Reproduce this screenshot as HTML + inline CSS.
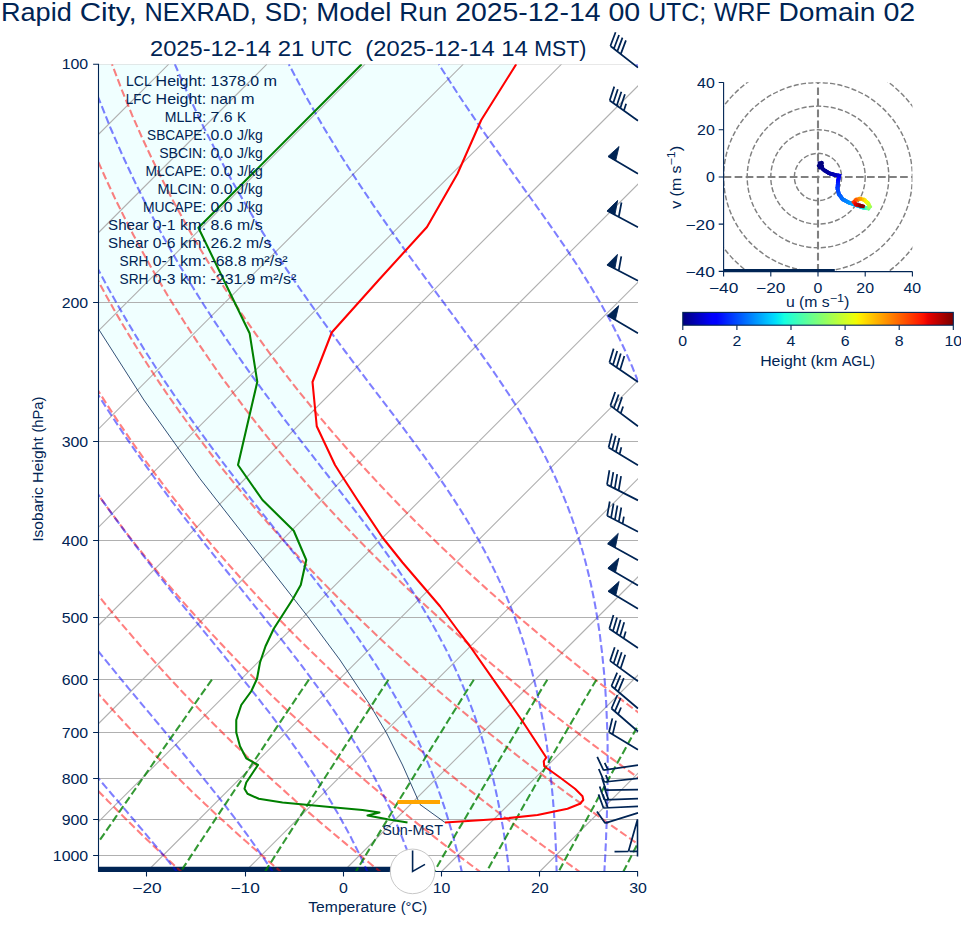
<!DOCTYPE html>
<html><head><meta charset="utf-8"><title>Skew-T</title>
<style>html,body{margin:0;padding:0;background:#fff}svg{display:block}text{font-family:"Liberation Sans",sans-serif;white-space:pre}</style>
</head><body>
<svg width="961" height="936" viewBox="0 0 961 936">
<rect width="961" height="936" fill="#ffffff"/>
<defs><clipPath id="cp"><rect x="98.00" y="64.20" width="540.00" height="807.30"/></clipPath></defs>
<g clip-path="url(#cp)">
<path d="M98.00,64.20 L98.00,328.20 L143.90,400.00 L200.00,478.75 L227.50,514.00 L262.50,558.75 L307.50,616.25 L340.00,660.00 L347.50,671.25 L370.00,705.00 L386.25,732.50 L402.50,765.00 L417.50,798.75 L420.00,804.50 L445.00,822.50 L445.00,822.50 L502.50,818.75 L537.50,815.00 L567.50,808.75 L580.00,803.75 L583.30,800.00 L582.50,796.25 L575.00,788.75 L560.00,777.50 L544.25,766.25 L543.75,761.25 L546.25,757.50 L522.50,721.25 L470.00,646.25 L457.50,630.00 L440.00,606.25 L402.50,562.50 L382.50,537.50 L357.50,500.00 L343.75,478.75 L335.00,465.00 L316.75,426.25 L312.50,382.00 L331.75,332.50 L378.75,280.00 L427.00,227.00 L457.50,173.75 L481.25,120.00 L516.25,64.20 Z" fill="#f0ffff" stroke="none"/>
<path d="M98.00,64.20 H638.00" fill="none" stroke="#b0b0b0" stroke-opacity="0.5" stroke-width="1.1"/>
<path d="M-933.20,871.50 L-125.90,64.20 M-835.00,871.50 L-27.70,64.20 M-736.80,871.50 L70.50,64.20 M-638.60,871.50 L168.70,64.20 M-540.40,871.50 L266.90,64.20 M-442.20,871.50 L365.10,64.20 M-344.00,871.50 L463.30,64.20 M-245.80,871.50 L561.50,64.20 M-147.60,871.50 L659.70,64.20 M-49.40,871.50 L757.90,64.20 M48.80,871.50 L856.10,64.20 M147.00,871.50 L954.30,64.20 M245.20,871.50 L1052.50,64.20 M343.40,871.50 L1150.70,64.20 M441.60,871.50 L1248.90,64.20 M539.80,871.50 L1347.10,64.20 M638.00,871.50 L1445.30,64.20 M736.20,871.50 L1543.50,64.20 M98.00,302.50 L638.00,302.50 M98.00,441.50 L638.00,441.50 M98.00,540.50 L638.00,540.50 M98.00,617.50 L638.00,617.50 M98.00,679.50 L638.00,679.50 M98.00,732.50 L638.00,732.50 M98.00,778.50 L638.00,778.50 M98.00,819.50 L638.00,819.50 M98.00,855.50 L638.00,855.50" fill="none" stroke="#b0b0b0" stroke-width="1.1"/>
<path d="M98.00,871.50 L413.00,871.50" stroke="#002454" stroke-width="9.6" fill="none"/>
<path d="M-16.5,873.1 L-18.9,870.5 L-21.4,867.9 L-23.9,865.2 L-26.3,862.5 L-28.8,859.8 L-31.3,857.1 L-33.8,854.3 L-36.3,851.6 L-38.8,848.8 L-41.3,846.0 L-43.8,843.1 L-46.3,840.3 L-48.9,837.4 L-51.4,834.5 L-54.0,831.5 L-56.5,828.6 L-59.1,825.6 L-61.7,822.6 L-64.3,819.5 L-66.9,816.5 L-69.5,813.4 L-72.1,810.2 L-74.7,807.1 L-77.3,803.9 L-80.0,800.7 L-82.6,797.4 L-85.3,794.2 L-87.9,790.9 L-90.6,787.5 L-93.3,784.2 L-96.0,780.8 L-98.7,777.3 L-101.4,773.9 L-104.2,770.4 L-106.9,766.8 L-109.6,763.2 L-112.4,759.6 L-115.2,756.0 L-117.9,752.3 L-120.7,748.5 L-123.5,744.8 L-126.3,740.9 L-129.1,737.1 L-131.9,733.2 L-134.8,729.2 L-137.6,725.2 L-140.5,721.2 L-143.3,717.1 L-146.2,713.0 L-149.1,708.8 L-152.0,704.5 L-154.9,700.2 L-157.8,695.9 L-160.8,691.5 L-163.7,687.0 L-166.7,682.5 L-169.6,677.9 L-172.6,673.3 L-175.6,668.6 L-178.6,663.8 L-181.6,658.9 L-184.6,654.0 L-187.6,649.1 L-190.7,644.0 L-193.7,638.9 L-196.8,633.7 L-199.8,628.4 L-202.9,623.0 L-206.0,617.6 L-209.1,612.0 L-212.2,606.4 L-215.3,600.7 L-218.5,594.8 L-221.6,588.9 L-224.7,582.9 L-227.9,576.7 L-231.1,570.5 L-234.2,564.1 L-237.4,557.6 L-240.6,551.0 L-243.8,544.3 L-247.0,537.4 L-250.2,530.4 L-253.5,523.2 L-256.7,515.9 L-259.9,508.5 L-263.1,500.8 L-266.4,493.0 L-269.6,485.0 L-272.8,476.8 L-276.1,468.5 L-279.3,459.9 L-282.5,451.0 L-285.7,442.0 L-288.9,432.7 L-292.1,423.2 L-295.3,413.3 L-298.5,403.2 L-301.6,392.8 L-304.8,382.1 L-307.8,371.0 L-310.9,359.5 L-313.9,347.7 L-316.9,335.4 L-319.8,322.7 L-322.7,309.4 L-325.5,295.7 L-328.2,281.3 L-330.8,266.4 L-333.3,250.8 L-335.6,234.4 L-337.8,217.2 L-339.9,199.1 L-341.7,180.0 L-343.2,159.7 L-344.5,138.2 L-345.4,115.3 L-345.8,90.7 L-345.8,64.2 M83.2,873.1 L80.5,870.5 L77.8,867.9 L75.2,865.2 L72.5,862.5 L69.8,859.8 L67.1,857.1 L64.4,854.3 L61.7,851.6 L58.9,848.8 L56.2,846.0 L53.4,843.1 L50.7,840.3 L47.9,837.4 L45.1,834.5 L42.3,831.5 L39.5,828.6 L36.7,825.6 L33.9,822.6 L31.1,819.5 L28.2,816.5 L25.4,813.4 L22.5,810.2 L19.7,807.1 L16.8,803.9 L13.9,800.7 L11.0,797.4 L8.1,794.2 L5.1,790.9 L2.2,787.5 L-0.7,784.2 L-3.7,780.8 L-6.7,777.3 L-9.6,773.9 L-12.6,770.4 L-15.6,766.8 L-18.7,763.2 L-21.7,759.6 L-24.7,756.0 L-27.8,752.3 L-30.8,748.5 L-33.9,744.8 L-37.0,740.9 L-40.1,737.1 L-43.2,733.2 L-46.3,729.2 L-49.5,725.2 L-52.6,721.2 L-55.8,717.1 L-59.0,713.0 L-62.2,708.8 L-65.4,704.5 L-68.6,700.2 L-71.8,695.9 L-75.1,691.5 L-78.3,687.0 L-81.6,682.5 L-84.9,677.9 L-88.2,673.3 L-91.5,668.6 L-94.8,663.8 L-98.2,658.9 L-101.5,654.0 L-104.9,649.1 L-108.3,644.0 L-111.7,638.9 L-115.1,633.7 L-118.5,628.4 L-122.0,623.0 L-125.4,617.6 L-128.9,612.0 L-132.4,606.4 L-135.9,600.7 L-139.4,594.8 L-142.9,588.9 L-146.4,582.9 L-150.0,576.7 L-153.6,570.5 L-157.2,564.1 L-160.8,557.6 L-164.4,551.0 L-168.0,544.3 L-171.6,537.4 L-175.3,530.4 L-178.9,523.2 L-182.6,515.9 L-186.3,508.5 L-190.0,500.8 L-193.7,493.0 L-197.4,485.0 L-201.1,476.8 L-204.9,468.5 L-208.6,459.9 L-212.3,451.0 L-216.1,442.0 L-219.8,432.7 L-223.6,423.2 L-227.3,413.3 L-231.1,403.2 L-234.8,392.8 L-238.5,382.1 L-242.2,371.0 L-245.9,359.5 L-249.5,347.7 L-253.2,335.4 L-256.8,322.7 L-260.3,309.4 L-263.8,295.7 L-267.2,281.3 L-270.6,266.4 L-273.9,250.8 L-277.0,234.4 L-280.1,217.2 L-283.0,199.1 L-285.7,180.0 L-288.2,159.7 L-290.4,138.2 L-292.3,115.3 L-293.9,90.7 L-294.9,64.2 M182.9,873.1 L180.0,870.5 L177.1,867.9 L174.2,865.2 L171.3,862.5 L168.4,859.8 L165.4,857.1 L162.5,854.3 L159.6,851.6 L156.6,848.8 L153.6,846.0 L150.7,843.1 L147.7,840.3 L144.7,837.4 L141.6,834.5 L138.6,831.5 L135.6,828.6 L132.5,825.6 L129.5,822.6 L126.4,819.5 L123.3,816.5 L120.2,813.4 L117.1,810.2 L114.0,807.1 L110.9,803.9 L107.7,800.7 L104.6,797.4 L101.4,794.2 L98.2,790.9 L95.0,787.5 L91.8,784.2 L88.6,780.8 L85.4,777.3 L82.1,773.9 L78.9,770.4 L75.6,766.8 L72.3,763.2 L69.0,759.6 L65.7,756.0 L62.4,752.3 L59.0,748.5 L55.7,744.8 L52.3,740.9 L48.9,737.1 L45.5,733.2 L42.1,729.2 L38.7,725.2 L35.2,721.2 L31.7,717.1 L28.3,713.0 L24.8,708.8 L21.3,704.5 L17.7,700.2 L14.2,695.9 L10.6,691.5 L7.1,687.0 L3.5,682.5 L-0.1,677.9 L-3.8,673.3 L-7.4,668.6 L-11.1,663.8 L-14.7,658.9 L-18.4,654.0 L-22.2,649.1 L-25.9,644.0 L-29.6,638.9 L-33.4,633.7 L-37.2,628.4 L-41.0,623.0 L-44.8,617.6 L-48.7,612.0 L-52.5,606.4 L-56.4,600.7 L-60.3,594.8 L-64.2,588.9 L-68.1,582.9 L-72.1,576.7 L-76.1,570.5 L-80.1,564.1 L-84.1,557.6 L-88.1,551.0 L-92.2,544.3 L-96.2,537.4 L-100.3,530.4 L-104.4,523.2 L-108.6,515.9 L-112.7,508.5 L-116.9,500.8 L-121.0,493.0 L-125.2,485.0 L-129.4,476.8 L-133.7,468.5 L-137.9,459.9 L-142.2,451.0 L-146.4,442.0 L-150.7,432.7 L-155.0,423.2 L-159.3,413.3 L-163.6,403.2 L-167.9,392.8 L-172.2,382.1 L-176.6,371.0 L-180.9,359.5 L-185.2,347.7 L-189.4,335.4 L-193.7,322.7 L-197.9,309.4 L-202.1,295.7 L-206.3,281.3 L-210.4,266.4 L-214.5,250.8 L-218.4,234.4 L-222.3,217.2 L-226.1,199.1 L-229.7,180.0 L-233.1,159.7 L-236.3,138.2 L-239.2,115.3 L-241.9,90.7 L-244.1,64.2 M282.5,873.1 L279.4,870.5 L276.3,867.9 L273.2,865.2 L270.1,862.5 L267.0,859.8 L263.8,857.1 L260.6,854.3 L257.5,851.6 L254.3,848.8 L251.1,846.0 L247.9,843.1 L244.7,840.3 L241.4,837.4 L238.2,834.5 L234.9,831.5 L231.6,828.6 L228.4,825.6 L225.1,822.6 L221.7,819.5 L218.4,816.5 L215.1,813.4 L211.7,810.2 L208.4,807.1 L205.0,803.9 L201.6,800.7 L198.2,797.4 L194.8,794.2 L191.3,790.9 L187.9,787.5 L184.4,784.2 L180.9,780.8 L177.4,777.3 L173.9,773.9 L170.4,770.4 L166.8,766.8 L163.3,763.2 L159.7,759.6 L156.1,756.0 L152.5,752.3 L148.9,748.5 L145.3,744.8 L141.6,740.9 L137.9,737.1 L134.2,733.2 L130.5,729.2 L126.8,725.2 L123.1,721.2 L119.3,717.1 L115.5,713.0 L111.7,708.8 L107.9,704.5 L104.1,700.2 L100.2,695.9 L96.3,691.5 L92.4,687.0 L88.5,682.5 L84.6,677.9 L80.6,673.3 L76.7,668.6 L72.7,663.8 L68.7,658.9 L64.6,654.0 L60.6,649.1 L56.5,644.0 L52.4,638.9 L48.3,633.7 L44.1,628.4 L40.0,623.0 L35.8,617.6 L31.6,612.0 L27.3,606.4 L23.1,600.7 L18.8,594.8 L14.5,588.9 L10.2,582.9 L5.8,576.7 L1.4,570.5 L-3.0,564.1 L-7.4,557.6 L-11.9,551.0 L-16.3,544.3 L-20.8,537.4 L-25.4,530.4 L-29.9,523.2 L-34.5,515.9 L-39.1,508.5 L-43.7,500.8 L-48.4,493.0 L-53.1,485.0 L-57.8,476.8 L-62.5,468.5 L-67.2,459.9 L-72.0,451.0 L-76.8,442.0 L-81.6,432.7 L-86.5,423.2 L-91.3,413.3 L-96.2,403.2 L-101.1,392.8 L-106.0,382.1 L-110.9,371.0 L-115.8,359.5 L-120.8,347.7 L-125.7,335.4 L-130.6,322.7 L-135.6,309.4 L-140.5,295.7 L-145.4,281.3 L-150.2,266.4 L-155.1,250.8 L-159.8,234.4 L-164.5,217.2 L-169.2,199.1 L-173.7,180.0 L-178.0,159.7 L-182.2,138.2 L-186.2,115.3 L-189.9,90.7 L-193.2,64.2 M382.2,873.1 L378.9,870.5 L375.6,867.9 L372.2,865.2 L368.9,862.5 L365.5,859.8 L362.2,857.1 L358.8,854.3 L355.4,851.6 L352.0,848.8 L348.5,846.0 L345.1,843.1 L341.6,840.3 L338.2,837.4 L334.7,834.5 L331.2,831.5 L327.7,828.6 L324.2,825.6 L320.6,822.6 L317.1,819.5 L313.5,816.5 L309.9,813.4 L306.3,810.2 L302.7,807.1 L299.1,803.9 L295.4,800.7 L291.8,797.4 L288.1,794.2 L284.4,790.9 L280.7,787.5 L277.0,784.2 L273.2,780.8 L269.5,777.3 L265.7,773.9 L261.9,770.4 L258.1,766.8 L254.3,763.2 L250.4,759.6 L246.5,756.0 L242.7,752.3 L238.8,748.5 L234.8,744.8 L230.9,740.9 L226.9,737.1 L223.0,733.2 L219.0,729.2 L214.9,725.2 L210.9,721.2 L206.8,717.1 L202.8,713.0 L198.7,708.8 L194.5,704.5 L190.4,700.2 L186.2,695.9 L182.0,691.5 L177.8,687.0 L173.6,682.5 L169.3,677.9 L165.1,673.3 L160.8,668.6 L156.4,663.8 L152.1,658.9 L147.7,654.0 L143.3,649.1 L138.9,644.0 L134.4,638.9 L130.0,633.7 L125.4,628.4 L120.9,623.0 L116.4,617.6 L111.8,612.0 L107.2,606.4 L102.5,600.7 L97.9,594.8 L93.2,588.9 L88.5,582.9 L83.7,576.7 L78.9,570.5 L74.1,564.1 L69.3,557.6 L64.4,551.0 L59.5,544.3 L54.6,537.4 L49.6,530.4 L44.6,523.2 L39.6,515.9 L34.5,508.5 L29.4,500.8 L24.3,493.0 L19.1,485.0 L13.9,476.8 L8.7,468.5 L3.5,459.9 L-1.8,451.0 L-7.2,442.0 L-12.5,432.7 L-17.9,423.2 L-23.3,413.3 L-28.8,403.2 L-34.2,392.8 L-39.7,382.1 L-45.3,371.0 L-50.8,359.5 L-56.4,347.7 L-62.0,335.4 L-67.6,322.7 L-73.2,309.4 L-78.8,295.7 L-84.5,281.3 L-90.1,266.4 L-95.7,250.8 L-101.2,234.4 L-106.8,217.2 L-112.3,199.1 L-117.7,180.0 L-123.0,159.7 L-128.1,138.2 L-133.1,115.3 L-137.9,90.7 L-142.3,64.2 M481.9,873.1 L478.4,870.5 L474.8,867.9 L471.3,865.2 L467.7,862.5 L464.1,859.8 L460.5,857.1 L456.9,854.3 L453.3,851.6 L449.6,848.8 L446.0,846.0 L442.3,843.1 L438.6,840.3 L434.9,837.4 L431.2,834.5 L427.5,831.5 L423.7,828.6 L420.0,825.6 L416.2,822.6 L412.4,819.5 L408.6,816.5 L404.8,813.4 L400.9,810.2 L397.1,807.1 L393.2,803.9 L389.3,800.7 L385.4,797.4 L381.4,794.2 L377.5,790.9 L373.5,787.5 L369.5,784.2 L365.5,780.8 L361.5,777.3 L357.5,773.9 L353.4,770.4 L349.3,766.8 L345.2,763.2 L341.1,759.6 L337.0,756.0 L332.8,752.3 L328.6,748.5 L324.4,744.8 L320.2,740.9 L316.0,737.1 L311.7,733.2 L307.4,729.2 L303.1,725.2 L298.7,721.2 L294.4,717.1 L290.0,713.0 L285.6,708.8 L281.2,704.5 L276.7,700.2 L272.2,695.9 L267.7,691.5 L263.2,687.0 L258.7,682.5 L254.1,677.9 L249.5,673.3 L244.8,668.6 L240.2,663.8 L235.5,658.9 L230.8,654.0 L226.0,649.1 L221.3,644.0 L216.5,638.9 L211.6,633.7 L206.8,628.4 L201.9,623.0 L197.0,617.6 L192.0,612.0 L187.0,606.4 L182.0,600.7 L177.0,594.8 L171.9,588.9 L166.8,582.9 L161.6,576.7 L156.4,570.5 L151.2,564.1 L145.9,557.6 L140.6,551.0 L135.3,544.3 L129.9,537.4 L124.5,530.4 L119.1,523.2 L113.6,515.9 L108.1,508.5 L102.5,500.8 L96.9,493.0 L91.3,485.0 L85.6,476.8 L79.9,468.5 L74.1,459.9 L68.3,451.0 L62.5,442.0 L56.6,432.7 L50.7,423.2 L44.7,413.3 L38.7,403.2 L32.6,392.8 L26.5,382.1 L20.4,371.0 L14.2,359.5 L8.0,347.7 L1.8,335.4 L-4.5,322.7 L-10.8,309.4 L-17.2,295.7 L-23.5,281.3 L-29.9,266.4 L-36.3,250.8 L-42.7,234.4 L-49.0,217.2 L-55.4,199.1 L-61.7,180.0 L-67.9,159.7 L-74.0,138.2 L-80.0,115.3 L-85.9,90.7 L-91.5,64.2 M581.6,873.1 L577.8,870.5 L574.1,867.9 L570.3,865.2 L566.5,862.5 L562.7,859.8 L558.9,857.1 L555.1,854.3 L551.2,851.6 L547.3,848.8 L543.4,846.0 L539.5,843.1 L535.6,840.3 L531.7,837.4 L527.7,834.5 L523.8,831.5 L519.8,828.6 L515.8,825.6 L511.8,822.6 L507.7,819.5 L503.7,816.5 L499.6,813.4 L495.5,810.2 L491.4,807.1 L487.3,803.9 L483.1,800.7 L479.0,797.4 L474.8,794.2 L470.6,790.9 L466.4,787.5 L462.1,784.2 L457.8,780.8 L453.6,777.3 L449.3,773.9 L444.9,770.4 L440.6,766.8 L436.2,763.2 L431.8,759.6 L427.4,756.0 L423.0,752.3 L418.5,748.5 L414.0,744.8 L409.5,740.9 L405.0,737.1 L400.4,733.2 L395.8,729.2 L391.2,725.2 L386.6,721.2 L381.9,717.1 L377.3,713.0 L372.5,708.8 L367.8,704.5 L363.0,700.2 L358.3,695.9 L353.4,691.5 L348.6,687.0 L343.7,682.5 L338.8,677.9 L333.9,673.3 L328.9,668.6 L323.9,663.8 L318.9,658.9 L313.9,654.0 L308.8,649.1 L303.6,644.0 L298.5,638.9 L293.3,633.7 L288.1,628.4 L282.8,623.0 L277.5,617.6 L272.2,612.0 L266.9,606.4 L261.5,600.7 L256.0,594.8 L250.6,588.9 L245.1,582.9 L239.5,576.7 L233.9,570.5 L228.3,564.1 L222.6,557.6 L216.9,551.0 L211.1,544.3 L205.3,537.4 L199.5,530.4 L193.6,523.2 L187.7,515.9 L181.7,508.5 L175.7,500.8 L169.6,493.0 L163.5,485.0 L157.3,476.8 L151.1,468.5 L144.8,459.9 L138.5,451.0 L132.1,442.0 L125.7,432.7 L119.2,423.2 L112.7,413.3 L106.1,403.2 L99.5,392.8 L92.8,382.1 L86.0,371.0 L79.2,359.5 L72.4,347.7 L65.5,335.4 L58.5,322.7 L51.5,309.4 L44.5,295.7 L37.4,281.3 L30.3,266.4 L23.1,250.8 L15.9,234.4 L8.7,217.2 L1.5,199.1 L-5.7,180.0 L-12.8,159.7 L-19.9,138.2 L-27.0,115.3 L-33.9,90.7 L-40.6,64.2 M681.3,873.1 L677.3,870.5 L673.3,867.9 L669.3,865.2 L665.3,862.5 L661.3,859.8 L657.2,857.1 L653.2,854.3 L649.1,851.6 L645.0,848.8 L640.9,846.0 L636.8,843.1 L632.6,840.3 L628.5,837.4 L624.3,834.5 L620.1,831.5 L615.9,828.6 L611.6,825.6 L607.4,822.6 L603.1,819.5 L598.8,816.5 L594.5,813.4 L590.1,810.2 L585.8,807.1 L581.4,803.9 L577.0,800.7 L572.6,797.4 L568.1,794.2 L563.7,790.9 L559.2,787.5 L554.7,784.2 L550.2,780.8 L545.6,777.3 L541.0,773.9 L536.4,770.4 L531.8,766.8 L527.2,763.2 L522.5,759.6 L517.8,756.0 L513.1,752.3 L508.4,748.5 L503.6,744.8 L498.8,740.9 L494.0,737.1 L489.1,733.2 L484.3,729.2 L479.4,725.2 L474.4,721.2 L469.5,717.1 L464.5,713.0 L459.5,708.8 L454.4,704.5 L449.4,700.2 L444.3,695.9 L439.1,691.5 L434.0,687.0 L428.8,682.5 L423.6,677.9 L418.3,673.3 L413.0,668.6 L407.7,663.8 L402.3,658.9 L396.9,654.0 L391.5,649.1 L386.0,644.0 L380.5,638.9 L375.0,633.7 L369.4,628.4 L363.8,623.0 L358.1,617.6 L352.4,612.0 L346.7,606.4 L340.9,600.7 L335.1,594.8 L329.3,588.9 L323.4,582.9 L317.4,576.7 L311.4,570.5 L305.4,564.1 L299.3,557.6 L293.2,551.0 L287.0,544.3 L280.7,537.4 L274.5,530.4 L268.1,523.2 L261.7,515.9 L255.3,508.5 L248.8,500.8 L242.3,493.0 L235.7,485.0 L229.0,476.8 L222.3,468.5 L215.5,459.9 L208.7,451.0 L201.8,442.0 L194.8,432.7 L187.8,423.2 L180.7,413.3 L173.5,403.2 L166.3,392.8 L159.0,382.1 L151.7,371.0 L144.3,359.5 L136.8,347.7 L129.2,335.4 L121.6,322.7 L113.9,309.4 L106.2,295.7 L98.3,281.3 L90.5,266.4 L82.5,250.8 L74.5,234.4 L66.5,217.2 L58.4,199.1 L50.3,180.0 L42.2,159.7 L34.2,138.2 L26.1,115.3 L18.1,90.7 L10.3,64.2 M780.9,873.1 L776.8,870.5 L772.6,867.9 L768.4,865.2 L764.1,862.5 L759.9,859.8 L755.6,857.1 L751.3,854.3 L747.0,851.6 L742.7,848.8 L738.4,846.0 L734.0,843.1 L729.6,840.3 L725.2,837.4 L720.8,834.5 L716.4,831.5 L711.9,828.6 L707.4,825.6 L702.9,822.6 L698.4,819.5 L693.9,816.5 L689.3,813.4 L684.7,810.2 L680.1,807.1 L675.5,803.9 L670.8,800.7 L666.2,797.4 L661.5,794.2 L656.8,790.9 L652.0,787.5 L647.3,784.2 L642.5,780.8 L637.7,777.3 L632.8,773.9 L628.0,770.4 L623.1,766.8 L618.1,763.2 L613.2,759.6 L608.2,756.0 L603.2,752.3 L598.2,748.5 L593.2,744.8 L588.1,740.9 L583.0,737.1 L577.9,733.2 L572.7,729.2 L567.5,725.2 L562.3,721.2 L557.0,717.1 L551.7,713.0 L546.4,708.8 L541.1,704.5 L535.7,700.2 L530.3,695.9 L524.8,691.5 L519.4,687.0 L513.9,682.5 L508.3,677.9 L502.7,673.3 L497.1,668.6 L491.4,663.8 L485.7,658.9 L480.0,654.0 L474.2,649.1 L468.4,644.0 L462.6,638.9 L456.7,633.7 L450.7,628.4 L444.8,623.0 L438.7,617.6 L432.7,612.0 L426.6,606.4 L420.4,600.7 L414.2,594.8 L407.9,588.9 L401.7,582.9 L395.3,576.7 L388.9,570.5 L382.5,564.1 L376.0,557.6 L369.4,551.0 L362.8,544.3 L356.1,537.4 L349.4,530.4 L342.6,523.2 L335.8,515.9 L328.9,508.5 L321.9,500.8 L314.9,493.0 L307.8,485.0 L300.7,476.8 L293.5,468.5 L286.2,459.9 L278.8,451.0 L271.4,442.0 L263.9,432.7 L256.3,423.2 L248.7,413.3 L241.0,403.2 L233.2,392.8 L225.3,382.1 L217.3,371.0 L209.3,359.5 L201.2,347.7 L193.0,335.4 L184.7,322.7 L176.3,309.4 L167.8,295.7 L159.3,281.3 L150.6,266.4 L141.9,250.8 L133.1,234.4 L124.3,217.2 L115.3,199.1 L106.4,180.0 L97.3,159.7 L88.2,138.2 L79.2,115.3 L70.1,90.7 L61.1,64.2 M880.6,873.1 L876.2,870.5 L871.8,867.9 L867.4,865.2 L862.9,862.5 L858.5,859.8 L854.0,857.1 L849.5,854.3 L844.9,851.6 L840.4,848.8 L835.8,846.0 L831.2,843.1 L826.6,840.3 L822.0,837.4 L817.3,834.5 L812.7,831.5 L808.0,828.6 L803.2,825.6 L798.5,822.6 L793.7,819.5 L789.0,816.5 L784.2,813.4 L779.3,810.2 L774.5,807.1 L769.6,803.9 L764.7,800.7 L759.8,797.4 L754.8,794.2 L749.9,790.9 L744.9,787.5 L739.8,784.2 L734.8,780.8 L729.7,777.3 L724.6,773.9 L719.5,770.4 L714.3,766.8 L709.1,763.2 L703.9,759.6 L698.7,756.0 L693.4,752.3 L688.1,748.5 L682.8,744.8 L677.4,740.9 L672.0,737.1 L666.6,733.2 L661.1,729.2 L655.7,725.2 L650.1,721.2 L644.6,717.1 L639.0,713.0 L633.4,708.8 L627.7,704.5 L622.0,700.2 L616.3,695.9 L610.5,691.5 L604.7,687.0 L598.9,682.5 L593.0,677.9 L587.1,673.3 L581.2,668.6 L575.2,663.8 L569.2,658.9 L563.1,654.0 L557.0,649.1 L550.8,644.0 L544.6,638.9 L538.3,633.7 L532.1,628.4 L525.7,623.0 L519.3,617.6 L512.9,612.0 L506.4,606.4 L499.9,600.7 L493.3,594.8 L486.6,588.9 L480.0,582.9 L473.2,576.7 L466.4,570.5 L459.5,564.1 L452.6,557.6 L445.7,551.0 L438.6,544.3 L431.5,537.4 L424.4,530.4 L417.1,523.2 L409.9,515.9 L402.5,508.5 L395.1,500.8 L387.6,493.0 L380.0,485.0 L372.4,476.8 L364.7,468.5 L356.9,459.9 L349.0,451.0 L341.1,442.0 L333.0,432.7 L324.9,423.2 L316.7,413.3 L308.4,403.2 L300.0,392.8 L291.5,382.1 L283.0,371.0 L274.3,359.5 L265.6,347.7 L256.7,335.4 L247.7,322.7 L238.7,309.4 L229.5,295.7 L220.2,281.3 L210.8,266.4 L201.3,250.8 L191.7,234.4 L182.0,217.2 L172.2,199.1 L162.4,180.0 L152.4,159.7 L142.3,138.2 L132.2,115.3 L122.1,90.7 L112.0,64.2" fill="none" stroke="#ff0000" stroke-opacity="0.5" stroke-width="2.08" stroke-dasharray="7.7 3.33"/>
<path d="M-17.5,873.1 L-22.6,867.2 L-27.8,861.2 L-33.0,855.1 L-36.0,851.6 L-39.0,848.1 L-42.1,844.6 L-45.1,841.0 L-48.2,837.3 L-51.3,833.6 L-54.4,829.9 L-57.5,826.2 L-60.7,822.4 L-63.8,818.5 L-67.0,814.6 L-70.2,810.7 L-73.5,806.7 L-76.7,802.7 L-80.0,798.6 L-83.3,794.5 L-86.6,790.3 L-89.9,786.1 L-93.2,781.8 L-96.6,777.5 L-100.0,773.1 L-103.4,768.7 L-106.8,764.2 L-110.2,759.6 L-113.7,755.0 L-117.2,750.3 L-120.7,745.6 L-124.2,740.8 L-127.7,735.9 L-131.3,731.0 L-134.8,725.9 L-138.4,720.8 L-142.0,715.7 L-145.7,710.4 L-149.3,705.1 L-153.0,699.7 L-156.6,694.2 L-160.3,688.6 L-164.1,682.9 L-167.8,677.1 L-171.6,671.2 L-175.3,665.2 L-179.1,659.1 L-182.9,652.9 L-186.8,646.6 L-190.6,640.2 L-194.5,633.6 L-198.4,626.9 L-202.3,620.1 L-206.2,613.2 L-210.1,606.1 L-214.1,598.8 L-218.0,591.4 L-222.0,583.8 L-226.0,576.1 L-230.0,568.2 L-234.0,560.1 L-238.1,551.8 L-242.1,543.3 L-246.2,534.6 L-250.3,525.6 L-254.3,516.4 L-258.4,507.0 L-262.5,497.3 L-266.6,487.3 L-270.7,477.0 L-274.8,466.4 L-278.9,455.4 L-283.0,444.1 L-287.0,432.4 L-291.1,420.3 L-295.1,407.8 L-299.1,394.8 L-303.1,381.3 L-307.0,367.2 L-310.9,352.5 L-314.6,337.1 L-318.4,321.1 L-322.0,304.2 L-325.5,286.5 L-328.8,267.8 L-332.0,248.1 L-334.9,227.1 L-337.6,204.8 L-340.0,180.9 L-341.9,155.2 L-343.4,127.5 L-344.3,97.3 L-344.3,64.2 M80.9,873.1 L75.7,867.2 L70.5,861.2 L65.2,855.1 L62.1,851.6 L59.0,848.1 L55.9,844.6 L52.8,841.0 L49.6,837.3 L46.4,833.6 L43.2,829.9 L40.0,826.2 L36.7,822.4 L33.4,818.5 L30.0,814.6 L26.6,810.7 L23.2,806.7 L19.8,802.7 L16.3,798.6 L12.9,794.5 L9.3,790.3 L5.8,786.1 L2.2,781.8 L-1.4,777.5 L-5.0,773.1 L-8.7,768.7 L-12.3,764.2 L-16.1,759.6 L-19.8,755.0 L-23.6,750.3 L-27.3,745.6 L-31.2,740.8 L-35.0,735.9 L-38.9,731.0 L-42.8,725.9 L-46.7,720.8 L-50.7,715.7 L-54.7,710.4 L-58.7,705.1 L-62.7,699.7 L-66.8,694.2 L-70.8,688.6 L-75.0,682.9 L-79.1,677.1 L-83.3,671.2 L-87.5,665.2 L-91.7,659.1 L-95.9,652.9 L-100.2,646.6 L-104.5,640.2 L-108.8,633.6 L-113.1,626.9 L-117.5,620.1 L-121.9,613.2 L-126.3,606.1 L-130.8,598.8 L-135.2,591.4 L-139.7,583.8 L-144.3,576.1 L-148.8,568.2 L-153.4,560.1 L-158.0,551.8 L-162.6,543.3 L-167.2,534.6 L-171.9,525.6 L-176.5,516.4 L-181.2,507.0 L-185.9,497.3 L-190.7,487.3 L-195.4,477.0 L-200.2,466.4 L-204.9,455.4 L-209.7,444.1 L-214.5,432.4 L-219.3,420.3 L-224.0,407.8 L-228.8,394.8 L-233.5,381.3 L-238.3,367.2 L-243.0,352.5 L-247.6,337.1 L-252.2,321.1 L-256.8,304.2 L-261.2,286.5 L-265.5,267.8 L-269.7,248.1 L-273.8,227.1 L-277.6,204.8 L-281.1,180.9 L-284.3,155.2 L-287.1,127.5 L-289.4,97.3 L-290.9,64.2 M178.0,873.1 L173.2,867.2 L168.4,861.2 L163.4,855.1 L160.5,851.6 L157.6,848.1 L154.6,844.6 L151.6,841.0 L148.5,837.3 L145.4,833.6 L142.3,829.9 L139.1,826.2 L135.9,822.4 L132.6,818.5 L129.3,814.6 L126.0,810.7 L122.6,806.7 L119.2,802.7 L115.7,798.6 L112.1,794.5 L108.6,790.3 L105.0,786.1 L101.3,781.8 L97.6,777.5 L93.9,773.1 L90.1,768.7 L86.3,764.2 L82.4,759.6 L78.5,755.0 L74.5,750.3 L70.5,745.6 L66.5,740.8 L62.4,735.9 L58.3,731.0 L54.1,725.9 L49.9,720.8 L45.7,715.7 L41.4,710.4 L37.1,705.1 L32.7,699.7 L28.3,694.2 L23.9,688.6 L19.4,682.9 L14.9,677.1 L10.4,671.2 L5.8,665.2 L1.2,659.1 L-3.5,652.9 L-8.2,646.6 L-12.9,640.2 L-17.7,633.6 L-22.5,626.9 L-27.4,620.1 L-32.3,613.2 L-37.2,606.1 L-42.1,598.8 L-47.1,591.4 L-52.2,583.8 L-57.2,576.1 L-62.3,568.2 L-67.5,560.1 L-72.6,551.8 L-77.8,543.3 L-83.1,534.6 L-88.3,525.6 L-93.6,516.4 L-99.0,507.0 L-104.4,497.3 L-109.8,487.3 L-115.2,477.0 L-120.6,466.4 L-126.1,455.4 L-131.6,444.1 L-137.2,432.4 L-142.7,420.3 L-148.3,407.8 L-153.9,394.8 L-159.5,381.3 L-165.0,367.2 L-170.6,352.5 L-176.2,337.1 L-181.7,321.1 L-187.3,304.2 L-192.7,286.5 L-198.1,267.8 L-203.4,248.1 L-208.6,227.1 L-213.6,204.8 L-218.4,180.9 L-222.9,155.2 L-227.1,127.5 L-230.9,97.3 L-234.0,64.2 M273.6,873.1 L269.7,867.2 L265.7,861.2 L261.6,855.1 L259.1,851.6 L256.7,848.1 L254.2,844.6 L251.6,841.0 L249.0,837.3 L246.3,833.6 L243.6,829.9 L240.8,826.2 L238.0,822.4 L235.1,818.5 L232.1,814.6 L229.1,810.7 L226.0,806.7 L222.9,802.7 L219.7,798.6 L216.5,794.5 L213.1,790.3 L209.8,786.1 L206.3,781.8 L202.8,777.5 L199.3,773.1 L195.6,768.7 L191.9,764.2 L188.2,759.6 L184.4,755.0 L180.5,750.3 L176.5,745.6 L172.5,740.8 L168.4,735.9 L164.3,731.0 L160.1,725.9 L155.8,720.8 L151.5,715.7 L147.1,710.4 L142.6,705.1 L138.1,699.7 L133.5,694.2 L128.8,688.6 L124.1,682.9 L119.3,677.1 L114.5,671.2 L109.6,665.2 L104.7,659.1 L99.6,652.9 L94.6,646.6 L89.4,640.2 L84.2,633.6 L79.0,626.9 L73.7,620.1 L68.3,613.2 L62.9,606.1 L57.4,598.8 L51.9,591.4 L46.3,583.8 L40.7,576.1 L35.0,568.2 L29.3,560.1 L23.5,551.8 L17.6,543.3 L11.7,534.6 L5.8,525.6 L-0.2,516.4 L-6.2,507.0 L-12.3,497.3 L-18.5,487.3 L-24.7,477.0 L-30.9,466.4 L-37.2,455.4 L-43.5,444.1 L-49.9,432.4 L-56.3,420.3 L-62.8,407.8 L-69.3,394.8 L-75.8,381.3 L-82.4,367.2 L-89.0,352.5 L-95.6,337.1 L-102.2,321.1 L-108.8,304.2 L-115.4,286.5 L-122.0,267.8 L-128.6,248.1 L-135.0,227.1 L-141.4,204.8 L-147.6,180.9 L-153.7,155.2 L-159.4,127.5 L-164.8,97.3 L-169.7,64.2 M368.0,873.1 L365.4,867.2 L362.7,861.2 L359.8,855.1 L358.1,851.6 L356.3,848.1 L354.6,844.6 L352.7,841.0 L350.9,837.3 L348.9,833.6 L347.0,829.9 L344.9,826.2 L342.8,822.4 L340.7,818.5 L338.5,814.6 L336.2,810.7 L333.9,806.7 L331.5,802.7 L329.1,798.6 L326.5,794.5 L324.0,790.3 L321.3,786.1 L318.6,781.8 L315.7,777.5 L312.9,773.1 L309.9,768.7 L306.9,764.2 L303.7,759.6 L300.5,755.0 L297.2,750.3 L293.8,745.6 L290.4,740.8 L286.8,735.9 L283.1,731.0 L279.4,725.9 L275.5,720.8 L271.6,715.7 L267.6,710.4 L263.4,705.1 L259.2,699.7 L254.8,694.2 L250.4,688.6 L245.8,682.9 L241.2,677.1 L236.4,671.2 L231.6,665.2 L226.6,659.1 L221.6,652.9 L216.4,646.6 L211.2,640.2 L205.8,633.6 L200.3,626.9 L194.8,620.1 L189.1,613.2 L183.3,606.1 L177.5,598.8 L171.5,591.4 L165.5,583.8 L159.3,576.1 L153.1,568.2 L146.8,560.1 L140.4,551.8 L133.9,543.3 L127.3,534.6 L120.6,525.6 L113.8,516.4 L107.0,507.0 L100.1,497.3 L93.1,487.3 L86.0,477.0 L78.8,466.4 L71.6,455.4 L64.3,444.1 L56.9,432.4 L49.4,420.3 L41.9,407.8 L34.3,394.8 L26.6,381.3 L18.8,367.2 L11.0,352.5 L3.2,337.1 L-4.8,321.1 L-12.7,304.2 L-20.7,286.5 L-28.8,267.8 L-36.8,248.1 L-44.9,227.1 L-52.9,204.8 L-60.9,180.9 L-68.8,155.2 L-76.5,127.5 L-83.9,97.3 L-91.0,64.2 M415.1,873.1 L413.1,867.2 L411.0,861.2 L408.9,855.1 L407.6,851.6 L406.3,848.1 L404.9,844.6 L403.5,841.0 L402.1,837.3 L400.6,833.6 L399.1,829.9 L397.5,826.2 L395.9,822.4 L394.3,818.5 L392.5,814.6 L390.8,810.7 L389.0,806.7 L387.1,802.7 L385.1,798.6 L383.1,794.5 L381.1,790.3 L378.9,786.1 L376.7,781.8 L374.5,777.5 L372.1,773.1 L369.7,768.7 L367.2,764.2 L364.6,759.6 L362.0,755.0 L359.2,750.3 L356.4,745.6 L353.5,740.8 L350.5,735.9 L347.3,731.0 L344.1,725.9 L340.8,720.8 L337.4,715.7 L333.8,710.4 L330.2,705.1 L326.4,699.7 L322.6,694.2 L318.6,688.6 L314.4,682.9 L310.2,677.1 L305.8,671.2 L301.3,665.2 L296.7,659.1 L291.9,652.9 L287.0,646.6 L282.0,640.2 L276.8,633.6 L271.5,626.9 L266.1,620.1 L260.5,613.2 L254.8,606.1 L249.0,598.8 L243.0,591.4 L236.9,583.8 L230.7,576.1 L224.3,568.2 L217.8,560.1 L211.2,551.8 L204.4,543.3 L197.6,534.6 L190.6,525.6 L183.5,516.4 L176.3,507.0 L168.9,497.3 L161.5,487.3 L153.9,477.0 L146.3,466.4 L138.5,455.4 L130.6,444.1 L122.6,432.4 L114.6,420.3 L106.4,407.8 L98.1,394.8 L89.7,381.3 L81.3,367.2 L72.7,352.5 L64.1,337.1 L55.4,321.1 L46.5,304.2 L37.7,286.5 L28.7,267.8 L19.7,248.1 L10.7,227.1 L1.7,204.8 L-7.4,180.9 L-16.4,155.2 L-25.3,127.5 L-34.0,97.3 L-42.5,64.2 M462.1,873.1 L460.8,867.2 L459.4,861.2 L458.0,855.1 L457.1,851.6 L456.2,848.1 L455.3,844.6 L454.3,841.0 L453.4,837.3 L452.3,833.6 L451.3,829.9 L450.2,826.2 L449.1,822.4 L447.9,818.5 L446.7,814.6 L445.5,810.7 L444.2,806.7 L442.8,802.7 L441.5,798.6 L440.0,794.5 L438.5,790.3 L437.0,786.1 L435.4,781.8 L433.8,777.5 L432.1,773.1 L430.3,768.7 L428.4,764.2 L426.5,759.6 L424.5,755.0 L422.5,750.3 L420.3,745.6 L418.1,740.8 L415.8,735.9 L413.4,731.0 L410.9,725.9 L408.3,720.8 L405.6,715.7 L402.9,710.4 L399.9,705.1 L396.9,699.7 L393.8,694.2 L390.5,688.6 L387.1,682.9 L383.6,677.1 L380.0,671.2 L376.2,665.2 L372.2,659.1 L368.1,652.9 L363.9,646.6 L359.5,640.2 L354.9,633.6 L350.1,626.9 L345.2,620.1 L340.1,613.2 L334.9,606.1 L329.4,598.8 L323.8,591.4 L318.0,583.8 L312.0,576.1 L305.8,568.2 L299.4,560.1 L292.9,551.8 L286.1,543.3 L279.2,534.6 L272.1,525.6 L264.8,516.4 L257.4,507.0 L249.7,497.3 L241.9,487.3 L234.0,477.0 L225.9,466.4 L217.6,455.4 L209.2,444.1 L200.6,432.4 L191.9,420.3 L183.0,407.8 L174.0,394.8 L164.8,381.3 L155.6,367.2 L146.1,352.5 L136.6,337.1 L127.0,321.1 L117.2,304.2 L107.3,286.5 L97.3,267.8 L87.2,248.1 L77.0,227.1 L66.7,204.8 L56.4,180.9 L46.1,155.2 L35.7,127.5 L25.5,97.3 L15.4,64.2 M509.3,873.1 L508.6,867.2 L507.9,861.2 L507.1,855.1 L506.6,851.6 L506.1,848.1 L505.6,844.6 L505.0,841.0 L504.5,837.3 L503.9,833.6 L503.3,829.9 L502.7,826.2 L502.0,822.4 L501.3,818.5 L500.6,814.6 L499.9,810.7 L499.1,806.7 L498.3,802.7 L497.5,798.6 L496.6,794.5 L495.7,790.3 L494.8,786.1 L493.8,781.8 L492.8,777.5 L491.7,773.1 L490.6,768.7 L489.4,764.2 L488.2,759.6 L486.9,755.0 L485.6,750.3 L484.2,745.6 L482.8,740.8 L481.3,735.9 L479.7,731.0 L478.0,725.9 L476.3,720.8 L474.5,715.7 L472.6,710.4 L470.6,705.1 L468.5,699.7 L466.3,694.2 L464.0,688.6 L461.6,682.9 L459.1,677.1 L456.4,671.2 L453.7,665.2 L450.7,659.1 L447.7,652.9 L444.5,646.6 L441.1,640.2 L437.6,633.6 L433.9,626.9 L430.0,620.1 L425.9,613.2 L421.7,606.1 L417.2,598.8 L412.5,591.4 L407.6,583.8 L402.4,576.1 L397.0,568.2 L391.4,560.1 L385.5,551.8 L379.4,543.3 L373.0,534.6 L366.3,525.6 L359.4,516.4 L352.2,507.0 L344.7,497.3 L337.0,487.3 L329.0,477.0 L320.7,466.4 L312.2,455.4 L303.4,444.1 L294.4,432.4 L285.2,420.3 L275.7,407.8 L266.0,394.8 L256.0,381.3 L245.9,367.2 L235.6,352.5 L225.0,337.1 L214.3,321.1 L203.4,304.2 L192.3,286.5 L181.0,267.8 L169.6,248.1 L158.0,227.1 L146.2,204.8 L134.4,180.9 L122.4,155.2 L110.3,127.5 L98.2,97.3 L86.2,64.2 M556.7,873.1 L556.5,867.2 L556.4,861.2 L556.2,855.1 L556.0,851.6 L555.9,848.1 L555.7,844.6 L555.6,841.0 L555.4,837.3 L555.2,833.6 L555.0,829.9 L554.8,826.2 L554.6,822.4 L554.3,818.5 L554.1,814.6 L553.8,810.7 L553.5,806.7 L553.2,802.7 L552.9,798.6 L552.5,794.5 L552.1,790.3 L551.7,786.1 L551.3,781.8 L550.9,777.5 L550.4,773.1 L549.9,768.7 L549.3,764.2 L548.8,759.6 L548.2,755.0 L547.5,750.3 L546.9,745.6 L546.2,740.8 L545.4,735.9 L544.6,731.0 L543.7,725.9 L542.8,720.8 L541.9,715.7 L540.9,710.4 L539.8,705.1 L538.7,699.7 L537.5,694.2 L536.2,688.6 L534.9,682.9 L533.4,677.1 L531.9,671.2 L530.3,665.2 L528.6,659.1 L526.7,652.9 L524.8,646.6 L522.8,640.2 L520.6,633.6 L518.3,626.9 L515.8,620.1 L513.2,613.2 L510.4,606.1 L507.4,598.8 L504.2,591.4 L500.8,583.8 L497.2,576.1 L493.4,568.2 L489.3,560.1 L485.0,551.8 L480.4,543.3 L475.4,534.6 L470.2,525.6 L464.6,516.4 L458.7,507.0 L452.4,497.3 L445.8,487.3 L438.8,477.0 L431.3,466.4 L423.5,455.4 L415.2,444.1 L406.5,432.4 L397.5,420.3 L388.0,407.8 L378.1,394.8 L367.8,381.3 L357.1,367.2 L346.0,352.5 L334.6,337.1 L322.8,321.1 L310.7,304.2 L298.3,286.5 L285.6,267.8 L272.6,248.1 L259.3,227.1 L245.8,204.8 L232.0,180.9 L218.0,155.2 L203.8,127.5 L189.4,97.3 L174.8,64.2 M604.3,873.1 L604.6,867.2 L604.9,861.2 L605.3,855.1 L605.4,851.6 L605.6,848.1 L605.8,844.6 L605.9,841.0 L606.1,837.3 L606.2,833.6 L606.4,829.9 L606.5,826.2 L606.7,822.4 L606.8,818.5 L606.9,814.6 L607.0,810.7 L607.1,806.7 L607.2,802.7 L607.3,798.6 L607.4,794.5 L607.5,790.3 L607.6,786.1 L607.6,781.8 L607.7,777.5 L607.7,773.1 L607.7,768.7 L607.7,764.2 L607.7,759.6 L607.7,755.0 L607.6,750.3 L607.6,745.6 L607.5,740.8 L607.4,735.9 L607.3,731.0 L607.1,725.9 L606.9,720.8 L606.7,715.7 L606.5,710.4 L606.3,705.1 L606.0,699.7 L605.6,694.2 L605.3,688.6 L604.9,682.9 L604.4,677.1 L603.9,671.2 L603.3,665.2 L602.7,659.1 L602.1,652.9 L601.3,646.6 L600.5,640.2 L599.7,633.6 L598.7,626.9 L597.7,620.1 L596.5,613.2 L595.3,606.1 L593.9,598.8 L592.4,591.4 L590.8,583.8 L589.0,576.1 L587.1,568.2 L585.0,560.1 L582.7,551.8 L580.2,543.3 L577.5,534.6 L574.5,525.6 L571.3,516.4 L567.8,507.0 L563.9,497.3 L559.7,487.3 L555.1,477.0 L550.1,466.4 L544.6,455.4 L538.6,444.1 L532.1,432.4 L525.1,420.3 L517.4,407.8 L509.1,394.8 L500.1,381.3 L490.5,367.2 L480.1,352.5 L469.0,337.1 L457.3,321.1 L444.8,304.2 L431.7,286.5 L417.9,267.8 L403.5,248.1 L388.6,227.1 L373.1,204.8 L357.1,180.9 L340.6,155.2 L323.7,127.5 L306.4,97.3 L288.8,64.2 M652.2,873.1 L652.9,867.2 L653.6,861.2 L654.4,855.1 L654.8,851.6 L655.2,848.1 L655.6,844.6 L656.1,841.0 L656.5,837.3 L656.9,833.6 L657.3,829.9 L657.8,826.2 L658.2,822.4 L658.6,818.5 L659.1,814.6 L659.5,810.7 L660.0,806.7 L660.4,802.7 L660.8,798.6 L661.3,794.5 L661.7,790.3 L662.2,786.1 L662.6,781.8 L663.1,777.5 L663.5,773.1 L663.9,768.7 L664.4,764.2 L664.8,759.6 L665.2,755.0 L665.7,750.3 L666.1,745.6 L666.5,740.8 L667.0,735.9 L667.4,731.0 L667.8,725.9 L668.2,720.8 L668.6,715.7 L669.0,710.4 L669.4,705.1 L669.8,699.7 L670.1,694.2 L670.5,688.6 L670.8,682.9 L671.2,677.1 L671.5,671.2 L671.8,665.2 L672.0,659.1 L672.3,652.9 L672.5,646.6 L672.7,640.2 L672.9,633.6 L673.1,626.9 L673.2,620.1 L673.3,613.2 L673.3,606.1 L673.3,598.8 L673.2,591.4 L673.1,583.8 L672.9,576.1 L672.7,568.2 L672.3,560.1 L671.9,551.8 L671.4,543.3 L670.7,534.6 L670.0,525.6 L669.1,516.4 L668.0,507.0 L666.8,497.3 L665.3,487.3 L663.7,477.0 L661.8,466.4 L659.6,455.4 L657.1,444.1 L654.2,432.4 L650.9,420.3 L647.2,407.8 L642.9,394.8 L638.0,381.3 L632.4,367.2 L626.0,352.5 L618.7,337.1 L610.5,321.1 L601.1,304.2 L590.6,286.5 L578.9,267.8 L565.8,248.1 L551.3,227.1 L535.5,204.8 L518.4,180.9 L500.1,155.2 L480.6,127.5 L460.1,97.3 L438.7,64.2 M700.3,873.1 L701.3,867.2 L702.4,861.2 L703.5,855.1 L704.1,851.6 L704.7,848.1 L705.3,844.6 L706.0,841.0 L706.6,837.3 L707.3,833.6 L707.9,829.9 L708.6,826.2 L709.3,822.4 L709.9,818.5 L710.6,814.6 L711.3,810.7 L712.0,806.7 L712.7,802.7 L713.4,798.6 L714.2,794.5 L714.9,790.3 L715.6,786.1 L716.4,781.8 L717.1,777.5 L717.9,773.1 L718.7,768.7 L719.4,764.2 L720.2,759.6 L721.0,755.0 L721.8,750.3 L722.6,745.6 L723.4,740.8 L724.3,735.9 L725.1,731.0 L725.9,725.9 L726.8,720.8 L727.6,715.7 L728.5,710.4 L729.4,705.1 L730.3,699.7 L731.1,694.2 L732.0,688.6 L732.9,682.9 L733.9,677.1 L734.8,671.2 L735.7,665.2 L736.6,659.1 L737.6,652.9 L738.5,646.6 L739.5,640.2 L740.4,633.6 L741.4,626.9 L742.3,620.1 L743.3,613.2 L744.3,606.1 L745.2,598.8 L746.2,591.4 L747.1,583.8 L748.1,576.1 L749.0,568.2 L750.0,560.1 L750.9,551.8 L751.8,543.3 L752.7,534.6 L753.5,525.6 L754.4,516.4 L755.2,507.0 L755.9,497.3 L756.6,487.3 L757.2,477.0 L757.8,466.4 L758.2,455.4 L758.6,444.1 L758.8,432.4 L758.9,420.3 L758.8,407.8 L758.5,394.8 L757.9,381.3 L757.1,367.2 L755.9,352.5 L754.2,337.1 L752.0,321.1 L749.1,304.2 L745.5,286.5 L740.9,267.8 L735.1,248.1 L727.8,227.1 L718.8,204.8 L707.7,180.9 L694.2,155.2 L677.9,127.5 L658.6,97.3 L636.3,64.2 M748.6,873.1 L749.9,867.2 L751.2,861.2 L752.6,855.1 L753.3,851.6 L754.1,848.1 L754.9,844.6 L755.7,841.0 L756.5,837.3 L757.4,833.6 L758.2,829.9 L759.0,826.2 L759.9,822.4 L760.8,818.5 L761.6,814.6 L762.5,810.7 L763.4,806.7 L764.3,802.7 L765.3,798.6 L766.2,794.5 L767.1,790.3 L768.1,786.1 L769.1,781.8 L770.1,777.5 L771.1,773.1 L772.1,768.7 L773.1,764.2 L774.1,759.6 L775.2,755.0 L776.3,750.3 L777.4,745.6 L778.5,740.8 L779.6,735.9 L780.7,731.0 L781.9,725.9 L783.0,720.8 L784.2,715.7 L785.4,710.4 L786.7,705.1 L787.9,699.7 L789.2,694.2 L790.5,688.6 L791.8,682.9 L793.1,677.1 L794.4,671.2 L795.8,665.2 L797.2,659.1 L798.6,652.9 L800.1,646.6 L801.5,640.2 L803.0,633.6 L804.6,626.9 L806.1,620.1 L807.7,613.2 L809.3,606.1 L810.9,598.8 L812.6,591.4 L814.3,583.8 L816.0,576.1 L817.7,568.2 L819.5,560.1 L821.3,551.8 L823.2,543.3 L825.0,534.6 L827.0,525.6 L828.9,516.4 L830.9,507.0 L832.9,497.3 L835.0,487.3 L837.1,477.0 L839.2,466.4 L841.3,455.4 L843.5,444.1 L845.7,432.4 L847.9,420.3 L850.2,407.8 L852.4,394.8 L854.7,381.3 L856.9,367.2 L859.1,352.5 L861.3,337.1 L863.4,321.1 L865.4,304.2 L867.2,286.5 L868.8,267.8 L870.2,248.1 L871.1,227.1 L871.5,204.8 L871.1,180.9 L869.6,155.2 L866.7,127.5 L861.6,97.3 L853.4,64.2 M797.1,873.1 L798.6,867.2 L800.1,861.2 L801.7,855.1 L802.6,851.6 L803.5,848.1 L804.4,844.6 L805.3,841.0 L806.2,837.3 L807.2,833.6 L808.2,829.9 L809.1,826.2 L810.1,822.4 L811.1,818.5 L812.2,814.6 L813.2,810.7 L814.2,806.7 L815.3,802.7 L816.4,798.6 L817.5,794.5 L818.6,790.3 L819.7,786.1 L820.8,781.8 L822.0,777.5 L823.2,773.1 L824.4,768.7 L825.6,764.2 L826.8,759.6 L828.1,755.0 L829.3,750.3 L830.6,745.6 L831.9,740.8 L833.3,735.9 L834.6,731.0 L836.0,725.9 L837.4,720.8 L838.8,715.7 L840.3,710.4 L841.8,705.1 L843.3,699.7 L844.8,694.2 L846.4,688.6 L847.9,682.9 L849.6,677.1 L851.2,671.2 L852.9,665.2 L854.6,659.1 L856.4,652.9 L858.1,646.6 L860.0,640.2 L861.8,633.6 L863.7,626.9 L865.7,620.1 L867.6,613.2 L869.7,606.1 L871.7,598.8 L873.9,591.4 L876.0,583.8 L878.3,576.1 L880.5,568.2 L882.9,560.1 L885.3,551.8 L887.7,543.3 L890.2,534.6 L892.8,525.6 L895.5,516.4 L898.2,507.0 L901.0,497.3 L903.9,487.3 L906.9,477.0 L910.0,466.4 L913.1,455.4 L916.4,444.1 L919.7,432.4 L923.2,420.3 L926.8,407.8 L930.5,394.8 L934.3,381.3 L938.3,367.2 L942.4,352.5 L946.7,337.1 L951.1,321.1 L955.7,304.2 L960.5,286.5 L965.5,267.8 L970.6,248.1 L975.9,227.1 L981.4,204.8 L987.1,180.9 L992.9,155.2 L998.8,127.5 L1004.6,97.3 L1010.2,64.2 M845.8,873.1 L847.4,867.2 L849.1,861.2 L850.8,855.1 L851.7,851.6 L852.7,848.1 L853.7,844.6 L854.8,841.0 L855.8,837.3 L856.8,833.6 L857.9,829.9 L859.0,826.2 L860.1,822.4 L861.2,818.5 L862.3,814.6 L863.4,810.7 L864.6,806.7 L865.7,802.7 L866.9,798.6 L868.1,794.5 L869.4,790.3 L870.6,786.1 L871.9,781.8 L873.1,777.5 L874.4,773.1 L875.8,768.7 L877.1,764.2 L878.5,759.6 L879.9,755.0 L881.3,750.3 L882.7,745.6 L884.2,740.8 L885.6,735.9 L887.1,731.0 L888.7,725.9 L890.2,720.8 L891.8,715.7 L893.5,710.4 L895.1,705.1 L896.8,699.7 L898.5,694.2 L900.2,688.6 L902.0,682.9 L903.8,677.1 L905.7,671.2 L907.6,665.2 L909.5,659.1 L911.5,652.9 L913.5,646.6 L915.6,640.2 L917.7,633.6 L919.8,626.9 L922.0,620.1 L924.3,613.2 L926.6,606.1 L929.0,598.8 L931.4,591.4 L933.9,583.8 L936.4,576.1 L939.0,568.2 L941.7,560.1 L944.5,551.8 L947.3,543.3 L950.2,534.6 L953.3,525.6 L956.4,516.4 L959.5,507.0 L962.8,497.3 L966.2,487.3 L969.8,477.0 L973.4,466.4 L977.2,455.4 L981.1,444.1 L985.1,432.4 L989.3,420.3 L993.7,407.8 L998.2,394.8 L1003.0,381.3 L1007.9,367.2 L1013.1,352.5 L1018.5,337.1 L1024.2,321.1 L1030.2,304.2 L1036.5,286.5 L1043.1,267.8 L1050.1,248.1 L1057.6,227.1 L1065.5,204.8 L1074.0,180.9 L1083.1,155.2 L1092.9,127.5 L1103.4,97.3 L1114.9,64.2" fill="none" stroke="#0000ff" stroke-opacity="0.5" stroke-width="2.08" stroke-dasharray="7.7 3.33"/>
<path d="M211.9,679.7 L205.7,688.4 L199.7,696.9 L193.8,705.3 L188.1,713.4 L182.6,721.3 L177.1,729.1 L171.8,736.7 L166.6,744.1 L161.5,751.4 L156.5,758.5 L151.7,765.5 L146.9,772.3 L142.2,779.0 L137.7,785.6 L133.2,792.0 L128.8,798.3 L124.4,804.6 L120.2,810.7 L116.0,816.7 L112.0,822.6 L107.9,828.4 L104.0,834.1 L100.1,839.7 L96.3,845.2 L92.6,850.6 L88.9,855.9 L85.2,861.2 L81.7,866.4 L78.2,871.5 M308.9,679.7 L302.9,688.4 L297.2,696.9 L291.5,705.3 L286.1,713.4 L280.7,721.3 L275.5,729.1 L270.4,736.7 L265.4,744.1 L260.6,751.4 L255.8,758.5 L251.1,765.5 L246.6,772.3 L242.1,779.0 L237.7,785.6 L233.4,792.0 L229.2,798.3 L225.1,804.6 L221.0,810.7 L217.0,816.7 L213.1,822.6 L209.3,828.4 L205.5,834.1 L201.8,839.7 L198.1,845.2 L194.6,850.6 L191.0,855.9 L187.6,861.2 L184.1,866.4 L180.8,871.5 M388.4,679.7 L382.7,688.4 L377.1,696.9 L371.7,705.3 L366.4,713.4 L361.3,721.3 L356.2,729.1 L351.3,736.7 L346.5,744.1 L341.8,751.4 L337.2,758.5 L332.8,765.5 L328.4,772.3 L324.1,779.0 L319.8,785.6 L315.7,792.0 L311.7,798.3 L307.7,804.6 L303.8,810.7 L300.0,816.7 L296.2,822.6 L292.5,828.4 L288.9,834.1 L285.3,839.7 L281.8,845.2 L278.4,850.6 L275.0,855.9 L271.7,861.2 L268.4,866.4 L265.2,871.5 M473.8,679.7 L468.3,688.4 L463.0,696.9 L457.8,705.3 L452.7,713.4 L447.8,721.3 L443.0,729.1 L438.3,736.7 L433.7,744.1 L429.2,751.4 L424.8,758.5 L420.5,765.5 L416.3,772.3 L412.2,779.0 L408.1,785.6 L404.2,792.0 L400.3,798.3 L396.5,804.6 L392.8,810.7 L389.1,816.7 L385.6,822.6 L382.0,828.4 L378.6,834.1 L375.2,839.7 L371.8,845.2 L368.5,850.6 L365.3,855.9 L362.1,861.2 L359.0,866.4 L355.9,871.5 M547.3,679.7 L542.0,688.4 L536.9,696.9 L531.9,705.3 L527.0,713.4 L522.3,721.3 L517.7,729.1 L513.2,736.7 L508.8,744.1 L504.4,751.4 L500.2,758.5 L496.1,765.5 L492.1,772.3 L488.1,779.0 L484.3,785.6 L480.5,792.0 L476.8,798.3 L473.1,804.6 L469.6,810.7 L466.1,816.7 L462.6,822.6 L459.2,828.4 L455.9,834.1 L452.7,839.7 L449.5,845.2 L446.3,850.6 L443.2,855.9 L440.2,861.2 L437.2,866.4 L434.3,871.5 M596.4,679.7 L591.2,688.4 L586.3,696.9 L581.4,705.3 L576.7,713.4 L572.1,721.3 L567.6,729.1 L563.2,736.7 L558.9,744.1 L554.7,751.4 L550.6,758.5 L546.6,765.5 L542.7,772.3 L538.9,779.0 L535.1,785.6 L531.5,792.0 L527.9,798.3 L524.3,804.6 L520.9,810.7 L517.5,816.7 L514.1,822.6 L510.9,828.4 L507.7,834.1 L504.5,839.7 L501.4,845.2 L498.4,850.6 L495.4,855.9 L492.4,861.2 L489.5,866.4 L486.7,871.5 M663.7,679.7 L658.8,688.4 L654.0,696.9 L649.4,705.3 L644.8,713.4 L640.4,721.3 L636.1,729.1 L631.9,736.7 L627.8,744.1 L623.8,751.4 L619.8,758.5 L616.0,765.5 L612.3,772.3 L608.6,779.0 L605.0,785.6 L601.5,792.0 L598.0,798.3 L594.7,804.6 L591.3,810.7 L588.1,816.7 L584.9,822.6 L581.8,828.4 L578.7,834.1 L575.7,839.7 L572.7,845.2 L569.8,850.6 L567.0,855.9 L564.2,861.2 L561.4,866.4 L558.7,871.5 M724.2,679.7 L719.4,688.4 L714.8,696.9 L710.4,705.3 L706.0,713.4 L701.8,721.3 L697.6,729.1 L693.6,736.7 L689.6,744.1 L685.8,751.4 L682.0,758.5 L678.3,765.5 L674.7,772.3 L671.2,779.0 L667.8,785.6 L664.4,792.0 L661.1,798.3 L657.9,804.6 L654.7,810.7 L651.6,816.7 L648.5,822.6 L645.5,828.4 L642.6,834.1 L639.7,839.7 L636.9,845.2 L634.1,850.6 L631.4,855.9 L628.7,861.2 L626.0,866.4 L623.4,871.5 M768.3,679.7 L763.7,688.4 L759.3,696.9 L754.9,705.3 L750.7,713.4 L746.6,721.3 L742.5,729.1 L738.6,736.7 L734.8,744.1 L731.1,751.4 L727.4,758.5 L723.9,765.5 L720.4,772.3 L717.0,779.0 L713.6,785.6 L710.4,792.0 L707.2,798.3 L704.0,804.6 L701.0,810.7 L698.0,816.7 L695.0,822.6 L692.1,828.4 L689.3,834.1 L686.5,839.7 L683.8,845.2 L681.1,850.6 L678.4,855.9 L675.8,861.2 L673.3,866.4 L670.8,871.5" fill="none" stroke="#008000" stroke-opacity="0.8" stroke-width="2.08" stroke-dasharray="7.7 3.33"/>
<path d="M98.00,328.20 L143.90,400.00 L200.00,478.75 L227.50,514.00 L262.50,558.75 L307.50,616.25 L340.00,660.00 L347.50,671.25 L370.00,705.00 L386.25,732.50 L402.50,765.00 L417.50,798.75 L420.00,804.50 L445.00,822.50" fill="none" stroke="#002454" stroke-width="0.8"/>
<path d="M361.70,64.20 L198.40,227.80 L249.60,333.20 L257.30,381.80 L238.00,465.00 L262.50,500.00 L293.75,530.75 L306.25,560.00 L300.75,585.00 L293.00,598.75 L273.75,628.75 L265.50,646.25 L260.00,662.50 L257.00,678.75 L251.25,691.25 L241.25,705.00 L236.25,720.00 L236.25,732.50 L240.00,746.25 L246.25,758.25 L258.00,765.00 L253.75,771.25 L246.25,782.50 L244.50,788.75 L247.50,793.75 L258.75,798.75 L282.50,802.50 L335.00,807.50 L362.50,810.00 L379.50,812.50 L367.50,815.50 L387.50,819.25 L407.50,822.50" fill="none" stroke="#008000" stroke-width="2.08" stroke-linejoin="round"/>
<path d="M516.25,64.20 L481.25,120.00 L457.50,173.75 L427.00,227.00 L378.75,280.00 L331.75,332.50 L312.50,382.00 L316.75,426.25 L335.00,465.00 L343.75,478.75 L357.50,500.00 L382.50,537.50 L402.50,562.50 L440.00,606.25 L457.50,630.00 L470.00,646.25 L522.50,721.25 L546.25,757.50 L543.75,761.25 L544.25,766.25 L560.00,777.50 L575.00,788.75 L582.50,796.25 L583.30,800.00 L580.00,803.75 L567.50,808.75 L537.50,815.00 L502.50,818.75 L445.00,822.50" fill="none" stroke="#ff0000" stroke-width="2.08" stroke-linejoin="round"/>
<path d="M397.5,802 L440,802" stroke="#ffa500" stroke-width="4.2" fill="none"/>
</g>
<path d="M98.50,63.80 L98.50,871.50 L638.00,871.50" fill="none" stroke="#002454" stroke-width="1.1"/>
<path d="M98.00,64.20 h-4.9 M98.00,302.50 h-4.9 M98.00,441.50 h-4.9 M98.00,540.50 h-4.9 M98.00,617.50 h-4.9 M98.00,679.50 h-4.9 M98.00,732.50 h-4.9 M98.00,778.50 h-4.9 M98.00,819.50 h-4.9 M98.00,855.50 h-4.9 M146.50,871.50 v4.9 M245.50,871.50 v4.9 M343.50,871.50 v4.9 M441.50,871.50 v4.9 M539.50,871.50 v4.9 M637.60,871.50 v4.9" stroke="#002454" stroke-width="1.1" fill="none"/>
<g fill="#002454" font-family="'Liberation Sans', sans-serif">
<text y="69.30" font-size="14.51" ><tspan x="61.69" textLength="26.51" lengthAdjust="spacingAndGlyphs">100</tspan></text>
<text y="307.60" font-size="14.51" ><tspan x="61.69" textLength="26.51" lengthAdjust="spacingAndGlyphs">200</tspan></text>
<text y="446.60" font-size="14.51" ><tspan x="61.69" textLength="26.51" lengthAdjust="spacingAndGlyphs">300</tspan></text>
<text y="545.60" font-size="14.51" ><tspan x="61.69" textLength="26.51" lengthAdjust="spacingAndGlyphs">400</tspan></text>
<text y="622.60" font-size="14.51" ><tspan x="61.69" textLength="26.51" lengthAdjust="spacingAndGlyphs">500</tspan></text>
<text y="684.60" font-size="14.51" ><tspan x="61.69" textLength="26.51" lengthAdjust="spacingAndGlyphs">600</tspan></text>
<text y="737.60" font-size="14.51" ><tspan x="61.69" textLength="26.51" lengthAdjust="spacingAndGlyphs">700</tspan></text>
<text y="783.60" font-size="14.51" ><tspan x="61.69" textLength="26.51" lengthAdjust="spacingAndGlyphs">800</tspan></text>
<text y="824.60" font-size="14.51" ><tspan x="61.69" textLength="26.51" lengthAdjust="spacingAndGlyphs">900</tspan></text>
<text y="860.60" font-size="14.51" ><tspan x="52.85" textLength="35.35" lengthAdjust="spacingAndGlyphs">1000</tspan></text>
<text y="892.50" font-size="14.51" ><tspan x="132.34" textLength="29.31" lengthAdjust="spacingAndGlyphs">−20</tspan></text>
<text y="892.50" font-size="14.51" ><tspan x="230.54" textLength="29.31" lengthAdjust="spacingAndGlyphs">−10</tspan></text>
<text y="892.50" font-size="14.51" ><tspan x="338.98" textLength="8.84" lengthAdjust="spacingAndGlyphs">0</tspan></text>
<text y="892.50" font-size="14.51" ><tspan x="432.76" textLength="17.67" lengthAdjust="spacingAndGlyphs">10</tspan></text>
<text y="892.50" font-size="14.51" ><tspan x="530.96" textLength="17.67" lengthAdjust="spacingAndGlyphs">20</tspan></text>
<text y="892.50" font-size="14.51" ><tspan x="629.16" textLength="17.67" lengthAdjust="spacingAndGlyphs">30</tspan></text>
<text y="912" font-size="14.52"><tspan x="308.29" textLength="87.97" lengthAdjust="spacingAndGlyphs">Temperature</tspan> <tspan x="400.67" textLength="26.44" lengthAdjust="spacingAndGlyphs">(°C)</tspan></text>
<g transform="translate(43.1,541.70) rotate(-90)">
<text y="0.00" font-size="14.51" ><tspan x="0.00" textLength="54.36" lengthAdjust="spacingAndGlyphs">Isobaric</tspan> <tspan x="58.78" textLength="45.91" lengthAdjust="spacingAndGlyphs">Height</tspan> <tspan x="109.11" textLength="35.90" lengthAdjust="spacingAndGlyphs">(hPa)</tspan></text>
</g>
<text y="20.70" font-size="26.12" ><tspan x="0.92" textLength="70.82" lengthAdjust="spacingAndGlyphs">Rapid</tspan> <tspan x="79.68" textLength="56.95" lengthAdjust="spacingAndGlyphs">City,</tspan> <tspan x="144.57" textLength="112.29" lengthAdjust="spacingAndGlyphs">NEXRAD,</tspan> <tspan x="264.81" textLength="43.54" lengthAdjust="spacingAndGlyphs">SD;</tspan> <tspan x="316.30" textLength="75.07" lengthAdjust="spacingAndGlyphs">Model</tspan> <tspan x="399.31" textLength="47.93" lengthAdjust="spacingAndGlyphs">Run</tspan> <tspan x="455.19" textLength="145.29" lengthAdjust="spacingAndGlyphs">2025-12-14</tspan> <tspan x="608.42" textLength="31.81" lengthAdjust="spacingAndGlyphs">00</tspan> <tspan x="648.18" textLength="57.98" lengthAdjust="spacingAndGlyphs">UTC;</tspan> <tspan x="714.10" textLength="56.47" lengthAdjust="spacingAndGlyphs">WRF</tspan> <tspan x="778.52" textLength="97.01" lengthAdjust="spacingAndGlyphs">Domain</tspan> <tspan x="883.47" textLength="31.81" lengthAdjust="spacingAndGlyphs">02</tspan></text>
<text y="56.00" font-size="21.77" ><tspan x="150.01" textLength="121.07" lengthAdjust="spacingAndGlyphs">2025-12-14</tspan> <tspan x="277.71" textLength="26.51" lengthAdjust="spacingAndGlyphs">21</tspan> <tspan x="310.84" textLength="41.30" lengthAdjust="spacingAndGlyphs">UTC</tspan> <tspan x="365.38" textLength="129.20" lengthAdjust="spacingAndGlyphs">(2025-12-14</tspan> <tspan x="501.20" textLength="26.51" lengthAdjust="spacingAndGlyphs">14</tspan> <tspan x="534.33" textLength="52.05" lengthAdjust="spacingAndGlyphs">MST)</tspan></text>
<text y="86.00" font-size="14.51" ><tspan x="126.02" textLength="25.18" lengthAdjust="spacingAndGlyphs">LCL</tspan> <tspan x="155.61" textLength="50.59" lengthAdjust="spacingAndGlyphs">Height:</tspan></text>
<text y="86.00" font-size="14.51" ><tspan x="210.61" textLength="48.60" lengthAdjust="spacingAndGlyphs">1378.0</tspan> <tspan x="263.63" textLength="13.53" lengthAdjust="spacingAndGlyphs">m</tspan></text>
<text y="104.00" font-size="14.51" ><tspan x="125.77" textLength="25.43" lengthAdjust="spacingAndGlyphs">LFC</tspan> <tspan x="155.61" textLength="50.59" lengthAdjust="spacingAndGlyphs">Height:</tspan></text>
<text y="104.00" font-size="14.51" ><tspan x="210.61" textLength="26.12" lengthAdjust="spacingAndGlyphs">nan</tspan> <tspan x="241.14" textLength="13.53" lengthAdjust="spacingAndGlyphs">m</tspan></text>
<text y="122.00" font-size="14.51" ><tspan x="164.84" textLength="41.36" lengthAdjust="spacingAndGlyphs">MLLR:</tspan></text>
<text y="122.00" font-size="14.51" ><tspan x="210.61" textLength="22.09" lengthAdjust="spacingAndGlyphs">7.6</tspan> <tspan x="237.12" textLength="9.11" lengthAdjust="spacingAndGlyphs">K</tspan></text>
<text y="140.00" font-size="14.51" ><tspan x="147.07" textLength="59.13" lengthAdjust="spacingAndGlyphs">SBCAPE:</tspan></text>
<text y="140.00" font-size="14.51" ><tspan x="210.61" textLength="22.09" lengthAdjust="spacingAndGlyphs">0.0</tspan> <tspan x="237.12" textLength="25.64" lengthAdjust="spacingAndGlyphs">J/kg</tspan></text>
<text y="158.00" font-size="14.51" ><tspan x="159.23" textLength="46.97" lengthAdjust="spacingAndGlyphs">SBCIN:</tspan></text>
<text y="158.00" font-size="14.51" ><tspan x="210.61" textLength="22.09" lengthAdjust="spacingAndGlyphs">0.0</tspan> <tspan x="237.12" textLength="25.64" lengthAdjust="spacingAndGlyphs">J/kg</tspan></text>
<text y="176.00" font-size="14.51" ><tspan x="145.45" textLength="60.75" lengthAdjust="spacingAndGlyphs">MLCAPE:</tspan></text>
<text y="176.00" font-size="14.51" ><tspan x="210.61" textLength="22.09" lengthAdjust="spacingAndGlyphs">0.0</tspan> <tspan x="237.12" textLength="25.64" lengthAdjust="spacingAndGlyphs">J/kg</tspan></text>
<text y="194.00" font-size="14.51" ><tspan x="157.61" textLength="48.59" lengthAdjust="spacingAndGlyphs">MLCIN:</tspan></text>
<text y="194.00" font-size="14.51" ><tspan x="210.61" textLength="22.09" lengthAdjust="spacingAndGlyphs">0.0</tspan> <tspan x="237.12" textLength="25.64" lengthAdjust="spacingAndGlyphs">J/kg</tspan></text>
<text y="212.00" font-size="14.51" ><tspan x="143.02" textLength="63.18" lengthAdjust="spacingAndGlyphs">MUCAPE:</tspan></text>
<text y="212.00" font-size="14.51" ><tspan x="210.61" textLength="22.09" lengthAdjust="spacingAndGlyphs">0.0</tspan> <tspan x="237.12" textLength="25.64" lengthAdjust="spacingAndGlyphs">J/kg</tspan></text>
<text y="230.00" font-size="14.51" ><tspan x="108.05" textLength="40.39" lengthAdjust="spacingAndGlyphs">Shear</tspan> <tspan x="152.85" textLength="22.68" lengthAdjust="spacingAndGlyphs">0-1</tspan> <tspan x="179.95" textLength="26.25" lengthAdjust="spacingAndGlyphs">km:</tspan></text>
<text y="230.00" font-size="14.51" ><tspan x="210.61" textLength="22.09" lengthAdjust="spacingAndGlyphs">8.6</tspan> <tspan x="237.12" textLength="25.44" lengthAdjust="spacingAndGlyphs">m/s</tspan></text>
<text y="248.00" font-size="14.51" ><tspan x="108.05" textLength="40.39" lengthAdjust="spacingAndGlyphs">Shear</tspan> <tspan x="152.85" textLength="22.68" lengthAdjust="spacingAndGlyphs">0-6</tspan> <tspan x="179.95" textLength="26.25" lengthAdjust="spacingAndGlyphs">km:</tspan></text>
<text y="248.00" font-size="14.51" ><tspan x="210.61" textLength="30.92" lengthAdjust="spacingAndGlyphs">26.2</tspan> <tspan x="245.95" textLength="25.44" lengthAdjust="spacingAndGlyphs">m/s</tspan></text>
<text y="266.00" font-size="14.51" ><tspan x="119.52" textLength="28.91" lengthAdjust="spacingAndGlyphs">SRH</tspan> <tspan x="152.85" textLength="22.68" lengthAdjust="spacingAndGlyphs">0-1</tspan> <tspan x="179.95" textLength="26.25" lengthAdjust="spacingAndGlyphs">km:</tspan></text>
<text y="266.00" font-size="14.51" ><tspan x="210.61" textLength="35.94" lengthAdjust="spacingAndGlyphs">-68.8</tspan> <tspan x="250.96" textLength="36.58" lengthAdjust="spacingAndGlyphs">m²/s²</tspan></text>
<text y="284.00" font-size="14.51" ><tspan x="119.52" textLength="28.91" lengthAdjust="spacingAndGlyphs">SRH</tspan> <tspan x="152.85" textLength="22.68" lengthAdjust="spacingAndGlyphs">0-3</tspan> <tspan x="179.95" textLength="26.25" lengthAdjust="spacingAndGlyphs">km:</tspan></text>
<text y="284.00" font-size="14.51" ><tspan x="210.61" textLength="44.77" lengthAdjust="spacingAndGlyphs">-231.9</tspan> <tspan x="259.80" textLength="36.58" lengthAdjust="spacingAndGlyphs">m²/s²</tspan></text>
<text y="835.00" font-size="14.51" ><tspan x="382.24" textLength="60.72" lengthAdjust="spacingAndGlyphs">Sun-MST</tspan></text>
</g>
<circle cx="412.6" cy="871.4" r="22.3" fill="#ffffff" stroke="#c8c8c8" stroke-width="1"/>
<path d="M412.6,850.4 L412.6,871.4 L425,864.4" fill="none" stroke="#002454" stroke-width="1.6"/>
<defs><clipPath id="cb"><rect x="560" y="0" width="78.6" height="936"/></clipPath></defs>
<g clip-path="url(#cb)"><path d="M638.00,67.60 L610.40,46.00 M610.40,46.00 L615.59,32.26 M613.85,48.70 L619.04,34.96 M617.30,51.40 L622.49,37.66 M620.75,54.10 L625.94,40.36 M638.00,120.80 L609.70,100.50 M609.70,100.50 L614.28,86.64 M613.24,103.04 L617.82,89.18 M616.78,105.58 L621.36,91.72 M620.31,108.11 L624.90,94.26 M623.85,110.65 L626.14,103.72 M638.00,173.80 L608.30,156.20 M638.00,227.20 L607.20,210.70 M618.75,216.89 L621.50,202.50 M638.00,280.70 L607.20,264.70 M618.75,270.70 L621.30,256.38 M638.00,333.30 L607.80,315.50 M638.00,382.05 L609.40,362.50 M609.40,362.50 L613.64,348.62 M612.98,364.94 L617.22,351.06 M616.55,367.39 L620.80,353.50 M620.12,369.83 L624.37,355.95 M638.00,426.20 L610.40,405.60 M610.40,405.60 L615.19,391.99 M613.85,408.18 L618.64,394.56 M617.30,410.75 L622.09,397.13 M620.75,413.32 L623.14,406.52 M638.00,465.30 L608.60,447.50 M608.60,447.50 L612.05,433.51 M612.27,449.73 L615.72,435.74 M615.95,451.95 L619.39,437.97 M619.62,454.18 L621.35,447.18 M638.00,500.40 L607.00,484.60 M607.00,484.60 L609.44,470.23 M610.88,486.57 L613.32,472.20 M614.75,488.55 L617.19,474.18 M618.62,490.52 L621.07,476.15 M638.00,531.80 L607.20,515.80 M607.20,515.80 L609.75,501.48 M611.05,517.80 L613.60,503.48 M614.90,519.80 L617.45,505.48 M618.75,521.80 L621.30,507.48 M622.60,523.80 L623.88,516.64 M638.00,560.20 L607.75,543.40 M638.00,585.60 L608.00,567.90 M638.00,608.85 L608.30,591.10 M638.00,648.10 L609.35,628.85 M609.35,628.85 L613.47,614.98 M612.93,631.26 L617.05,617.39 M616.51,633.66 L620.63,619.80 M620.09,636.07 L624.21,622.20 M623.68,638.48 L625.73,631.54 M638.00,681.20 L610.10,660.90 M610.10,660.90 L614.73,647.20 M613.59,663.44 L618.22,649.74 M617.08,665.98 L621.71,652.28 M620.56,668.51 L625.20,654.82 M638.00,708.50 L611.50,686.00 M611.50,686.00 L617.19,672.59 M614.81,688.81 L620.50,675.40 M618.12,691.62 L623.81,678.21 M638.00,731.50 L611.50,708.50 M611.50,708.50 L617.39,695.02 M614.81,711.38 L620.70,697.90 M618.12,714.25 L621.07,707.51 M638.00,749.70 L609.00,732.20 M609.00,732.20 L612.38,718.41 M612.62,734.39 L616.00,720.60 M638.00,765.20 L603.50,770.10 M603.50,770.10 L597.23,756.91 M607.81,769.49 L604.68,762.89 M638.00,778.40 L604.40,782.00 M604.40,782.00 L598.76,769.01 M608.60,781.55 L605.78,775.05 M638.00,789.70 L606.00,790.20 M606.00,790.20 L601.80,777.46 M638.00,798.70 L604.30,799.80 M604.30,799.80 L599.65,786.46 M608.51,799.66 L603.86,786.32 M638.00,806.30 L603.50,808.00 M603.50,808.00 L598.51,794.41 M607.81,807.79 L602.82,794.20 M638.00,812.80 L605.20,823.20 M605.20,823.20 L596.94,811.38 M637.60,819.20 L628.50,851.30 M628.50,851.30 L614.52,851.67 M637.6,819.2 L637.6,856.4 M637.6,851.2 L629.6,851.4" fill="none" stroke="#002454" stroke-width="1.75" stroke-linecap="butt"/>
<path d="M608.30,156.20 L619.05,146.52 L615.72,160.60 Z M607.20,210.70 L617.65,200.44 L614.90,214.82 Z M607.20,264.70 L617.45,254.38 L614.90,268.70 Z M607.80,315.50 L618.69,305.64 L615.35,319.95 Z M607.75,543.40 L618.25,533.40 L615.31,547.60 Z M608.00,567.90 L618.83,558.11 L615.50,572.32 Z M608.30,591.10 L619.11,581.44 L615.73,595.54 Z" fill="#002454" stroke="#002454" stroke-width="0.9" stroke-linejoin="miter"/></g>
<defs><clipPath id="ch"><rect x="723.60" y="82.30" width="188.80" height="189.30"/></clipPath></defs>
<g clip-path="url(#ch)">
<circle cx="818.00" cy="176.95" r="23.60" fill="none" stroke="#808080" stroke-width="1.45" stroke-dasharray="5.14 2.22"/>
<circle cx="818.00" cy="176.95" r="47.20" fill="none" stroke="#808080" stroke-width="1.45" stroke-dasharray="5.14 2.22"/>
<circle cx="818.00" cy="176.95" r="70.80" fill="none" stroke="#808080" stroke-width="1.45" stroke-dasharray="5.14 2.22"/>
<circle cx="818.00" cy="176.95" r="94.40" fill="none" stroke="#808080" stroke-width="1.45" stroke-dasharray="5.14 2.22"/>
<circle cx="818.00" cy="176.95" r="118.00" fill="none" stroke="#808080" stroke-width="1.45" stroke-dasharray="5.14 2.22"/>
<path d="M723.60,176.95 H912.40 M818.00,271.60 V82.30" fill="none" stroke="#808080" stroke-width="2.1" stroke-dasharray="7.7 3.33"/>
<g fill="none" stroke-width="3.7" stroke-linecap="square"><path d="M819.60,163.20 L821.60,163.00" stroke="#00007f"/><path d="M821.60,163.00 L820.40,164.30" stroke="#00007f"/><path d="M820.40,164.30 L819.20,165.60" stroke="#00007f"/><path d="M819.20,165.60 L821.80,166.40" stroke="#00007f"/><path d="M821.80,166.40 L820.00,167.20" stroke="#00007f"/><path d="M820.00,167.20 L821.20,167.40" stroke="#000084"/><path d="M821.20,167.40 L822.55,168.70" stroke="#000084"/><path d="M822.55,168.70 L823.90,170.00" stroke="#00008d"/><path d="M823.90,170.00 L825.25,170.82" stroke="#000091"/><path d="M825.25,170.82 L826.60,171.65" stroke="#000096"/><path d="M826.60,171.65 L827.95,172.48" stroke="#00009a"/><path d="M827.95,172.48 L829.30,173.30" stroke="#00009f"/><path d="M829.30,173.30 L830.75,173.73" stroke="#0000a3"/><path d="M830.75,173.73 L832.20,174.15" stroke="#0000a8"/><path d="M832.20,174.15 L833.65,174.57" stroke="#0000ac"/><path d="M833.65,174.57 L835.10,175.00" stroke="#0000b1"/><path d="M835.10,175.00 L837.20,175.35" stroke="#0000b6"/><path d="M837.20,175.35 L839.30,175.70" stroke="#0000bf"/><path d="M839.30,175.70 L838.60,178.50" stroke="#0000da"/><path d="M838.60,178.50 L838.30,180.05" stroke="#0000fa"/><path d="M838.30,180.05 L838.00,181.60" stroke="#0000ff"/><path d="M838.00,181.60 L837.88,183.28" stroke="#0008ff"/><path d="M837.88,183.28 L837.75,184.95" stroke="#0018ff"/><path d="M837.75,184.95 L837.62,186.62" stroke="#0024ff"/><path d="M837.62,186.62 L837.50,188.30" stroke="#0030ff"/><path d="M837.50,188.30 L837.97,190.23" stroke="#0038ff"/><path d="M837.97,190.23 L838.43,192.17" stroke="#0040ff"/><path d="M838.43,192.17 L838.90,194.10" stroke="#0048ff"/><path d="M838.90,194.10 L839.83,195.35" stroke="#0050ff"/><path d="M839.83,195.35 L840.75,196.60" stroke="#0058ff"/><path d="M840.75,196.60 L841.67,197.85" stroke="#0060ff"/><path d="M841.67,197.85 L842.60,199.10" stroke="#0064ff"/><path d="M842.60,199.10 L844.08,199.93" stroke="#006cff"/><path d="M844.08,199.93 L845.55,200.75" stroke="#0074ff"/><path d="M845.55,200.75 L847.02,201.57" stroke="#007cff"/><path d="M847.02,201.57 L848.50,202.40" stroke="#0084ff"/><path d="M848.50,202.40 L849.95,202.93" stroke="#008cff"/><path d="M849.95,202.93 L851.40,203.45" stroke="#0094ff"/><path d="M851.40,203.45 L852.85,203.97" stroke="#009cff"/><path d="M852.85,203.97 L854.30,204.50" stroke="#00a4ff"/><path d="M854.30,204.50 L855.96,205.08" stroke="#00acff"/><path d="M855.96,205.08 L857.62,205.66" stroke="#00b4ff"/><path d="M857.62,205.66 L859.28,206.24" stroke="#00bcff"/><path d="M859.28,206.24 L860.94,206.82" stroke="#00c4ff"/><path d="M860.94,206.82 L862.60,207.40" stroke="#00ccff"/><path d="M862.60,207.40 L864.30,207.75" stroke="#00dcfe"/><path d="M864.30,207.75 L866.00,208.10" stroke="#0ff8e7"/><path d="M866.00,208.10 L868.40,208.30" stroke="#39ffbd"/><path d="M868.40,208.30 L869.70,206.60" stroke="#76ff80"/><path d="M869.70,206.60 L868.85,204.95" stroke="#a0ff56"/><path d="M868.85,204.95 L868.00,203.30" stroke="#baff3c"/><path d="M868.00,203.30 L866.77,202.18" stroke="#cdff29"/><path d="M866.77,202.18 L865.53,201.07" stroke="#ddff18"/><path d="M865.53,201.07 L864.30,199.95" stroke="#edff08"/><path d="M864.30,199.95 L862.20,199.32" stroke="#ffe500"/><path d="M862.20,199.32 L860.10,198.70" stroke="#ffc400"/><path d="M860.10,198.70 L858.05,199.32" stroke="#ffa300"/><path d="M858.05,199.32 L856.00,199.95" stroke="#ff8900"/><path d="M856.00,199.95 L853.90,202.00" stroke="#ff5c00"/><path d="M853.90,202.00 L854.95,203.25" stroke="#ff3400"/><path d="M854.95,203.25 L856.00,204.50" stroke="#ff1600"/><path d="M856.00,204.50 L858.00,205.05" stroke="#de0000"/><path d="M858.00,205.05 L860.00,205.60" stroke="#bf0000"/><path d="M860.00,205.60 L861.50,205.95" stroke="#9f0000"/><path d="M861.50,205.95 L863.00,206.30" stroke="#880000"/></g>
<path d="M723.60,271.60 H834.80" stroke="#002454" stroke-width="5.4" fill="none"/>
</g>
<path d="M723.60,82.30 V271.60 H912.40" fill="none" stroke="#002454" stroke-width="1.1"/>
<path d="M723.60,271.60 v4.9 M723.60,271.35 h-4.9 M770.80,271.60 v4.9 M723.60,224.15 h-4.9 M818.00,271.60 v4.9 M723.60,176.95 h-4.9 M865.20,271.60 v4.9 M723.60,129.75 h-4.9 M912.40,271.60 v4.9 M723.60,82.55 h-4.9" stroke="#002454" stroke-width="1.1" fill="none"/>
<g fill="#002454" font-family="'Liberation Sans', sans-serif">
<text y="292.70" font-size="14.51" ><tspan x="708.94" textLength="29.31" lengthAdjust="spacingAndGlyphs">−40</tspan></text>
<text y="276.85" font-size="14.51" ><tspan x="685.49" textLength="29.31" lengthAdjust="spacingAndGlyphs">−40</tspan></text>
<text y="292.70" font-size="14.51" ><tspan x="756.14" textLength="29.31" lengthAdjust="spacingAndGlyphs">−20</tspan></text>
<text y="229.65" font-size="14.51" ><tspan x="685.49" textLength="29.31" lengthAdjust="spacingAndGlyphs">−20</tspan></text>
<text y="292.70" font-size="14.51" ><tspan x="813.58" textLength="8.84" lengthAdjust="spacingAndGlyphs">0</tspan></text>
<text y="182.45" font-size="14.51" ><tspan x="705.96" textLength="8.84" lengthAdjust="spacingAndGlyphs">0</tspan></text>
<text y="292.70" font-size="14.51" ><tspan x="856.36" textLength="17.67" lengthAdjust="spacingAndGlyphs">20</tspan></text>
<text y="135.25" font-size="14.51" ><tspan x="697.13" textLength="17.67" lengthAdjust="spacingAndGlyphs">20</tspan></text>
<text y="292.70" font-size="14.51" ><tspan x="903.56" textLength="17.67" lengthAdjust="spacingAndGlyphs">40</tspan></text>
<text y="88.05" font-size="14.51" ><tspan x="697.13" textLength="17.67" lengthAdjust="spacingAndGlyphs">40</tspan></text>
<text x="785.92" y="306.8" font-size="14.52" textLength="43.81" lengthAdjust="spacingAndGlyphs">u (m s</text>
<text x="829.73" y="302.0" font-size="10.60" textLength="14.33" lengthAdjust="spacingAndGlyphs">−1</text>
<text x="844.06" y="306.8" font-size="14.52" textLength="5.42" lengthAdjust="spacingAndGlyphs">)</text>
<g transform="translate(680.8,208.73) rotate(-90)">
<text x="0" y="0" font-size="14.52" textLength="43.23" lengthAdjust="spacingAndGlyphs">v (m s</text>
<text x="43.23" y="-5.4" font-size="10.60" textLength="14.33" lengthAdjust="spacingAndGlyphs">−1</text>
<text x="57.56" y="0" font-size="14.52" textLength="5.42" lengthAdjust="spacingAndGlyphs">)</text>
</g>
</g>
<defs><linearGradient id="jet" x1="0" x2="1" y1="0" y2="0"><stop offset="0.0000" stop-color="#00007f"/><stop offset="0.0156" stop-color="#000091"/><stop offset="0.0312" stop-color="#0000a3"/><stop offset="0.0469" stop-color="#0000b6"/><stop offset="0.0625" stop-color="#0000c8"/><stop offset="0.0781" stop-color="#0000da"/><stop offset="0.0938" stop-color="#0000ec"/><stop offset="0.1094" stop-color="#0000fe"/><stop offset="0.1250" stop-color="#0000ff"/><stop offset="0.1406" stop-color="#0010ff"/><stop offset="0.1562" stop-color="#0020ff"/><stop offset="0.1719" stop-color="#0030ff"/><stop offset="0.1875" stop-color="#0040ff"/><stop offset="0.2031" stop-color="#0050ff"/><stop offset="0.2188" stop-color="#0060ff"/><stop offset="0.2344" stop-color="#0070ff"/><stop offset="0.2500" stop-color="#0080ff"/><stop offset="0.2656" stop-color="#0090ff"/><stop offset="0.2812" stop-color="#00a0ff"/><stop offset="0.2969" stop-color="#00b0ff"/><stop offset="0.3125" stop-color="#00c0ff"/><stop offset="0.3281" stop-color="#00d0ff"/><stop offset="0.3438" stop-color="#00e0fa"/><stop offset="0.3594" stop-color="#08f0ed"/><stop offset="0.3750" stop-color="#15ffe1"/><stop offset="0.3906" stop-color="#22ffd4"/><stop offset="0.4062" stop-color="#2fffc7"/><stop offset="0.4219" stop-color="#3cffba"/><stop offset="0.4375" stop-color="#49ffad"/><stop offset="0.4531" stop-color="#56ffa0"/><stop offset="0.4688" stop-color="#63ff93"/><stop offset="0.4844" stop-color="#70ff86"/><stop offset="0.5000" stop-color="#7cff79"/><stop offset="0.5156" stop-color="#89ff6c"/><stop offset="0.5312" stop-color="#96ff5f"/><stop offset="0.5469" stop-color="#a3ff53"/><stop offset="0.5625" stop-color="#b0ff46"/><stop offset="0.5781" stop-color="#bdff39"/><stop offset="0.5938" stop-color="#caff2c"/><stop offset="0.6094" stop-color="#d7ff1f"/><stop offset="0.6250" stop-color="#e4ff12"/><stop offset="0.6406" stop-color="#f1fc05"/><stop offset="0.6562" stop-color="#feed00"/><stop offset="0.6719" stop-color="#ffde00"/><stop offset="0.6875" stop-color="#ffcf00"/><stop offset="0.7031" stop-color="#ffc000"/><stop offset="0.7188" stop-color="#ffb100"/><stop offset="0.7344" stop-color="#ffa300"/><stop offset="0.7500" stop-color="#ff9400"/><stop offset="0.7656" stop-color="#ff8500"/><stop offset="0.7812" stop-color="#ff7600"/><stop offset="0.7969" stop-color="#ff6700"/><stop offset="0.8125" stop-color="#ff5900"/><stop offset="0.8281" stop-color="#ff4a00"/><stop offset="0.8438" stop-color="#ff3b00"/><stop offset="0.8594" stop-color="#ff2c00"/><stop offset="0.8750" stop-color="#ff1d00"/><stop offset="0.8906" stop-color="#fa0f00"/><stop offset="0.9062" stop-color="#e80000"/><stop offset="0.9219" stop-color="#d50000"/><stop offset="0.9375" stop-color="#c30000"/><stop offset="0.9531" stop-color="#b10000"/><stop offset="0.9688" stop-color="#9f0000"/><stop offset="0.9844" stop-color="#8d0000"/><stop offset="1.0000" stop-color="#7f0000"/></linearGradient></defs>
<rect x="682.80" y="312.40" width="270.50" height="12.80" fill="url(#jet)" stroke="#002454" stroke-width="1.1"/>
<g fill="#002454" font-family="'Liberation Sans', sans-serif">
<text y="346.40" font-size="14.51" ><tspan x="678.38" textLength="8.84" lengthAdjust="spacingAndGlyphs">0</tspan></text>
<text y="346.40" font-size="14.51" ><tspan x="732.48" textLength="8.84" lengthAdjust="spacingAndGlyphs">2</tspan></text>
<text y="346.40" font-size="14.51" ><tspan x="786.58" textLength="8.84" lengthAdjust="spacingAndGlyphs">4</tspan></text>
<text y="346.40" font-size="14.51" ><tspan x="840.68" textLength="8.84" lengthAdjust="spacingAndGlyphs">6</tspan></text>
<text y="346.40" font-size="14.51" ><tspan x="894.78" textLength="8.84" lengthAdjust="spacingAndGlyphs">8</tspan></text>
<text y="346.40" font-size="14.51" ><tspan x="944.46" textLength="17.67" lengthAdjust="spacingAndGlyphs">10</tspan></text>
<text y="366.00" font-size="14.51" ><tspan x="760.15" textLength="45.91" lengthAdjust="spacingAndGlyphs">Height</tspan> <tspan x="810.47" textLength="26.99" lengthAdjust="spacingAndGlyphs">(km</tspan> <tspan x="841.88" textLength="33.18" lengthAdjust="spacingAndGlyphs">AGL)</tspan></text>
</g>
<path d="M682.80,325.20 v4.9 M736.90,325.20 v4.9 M791.00,325.20 v4.9 M845.10,325.20 v4.9 M899.20,325.20 v4.9 M953.30,325.20 v4.9" stroke="#002454" stroke-width="1.1" fill="none"/>
</svg>
</body></html>
